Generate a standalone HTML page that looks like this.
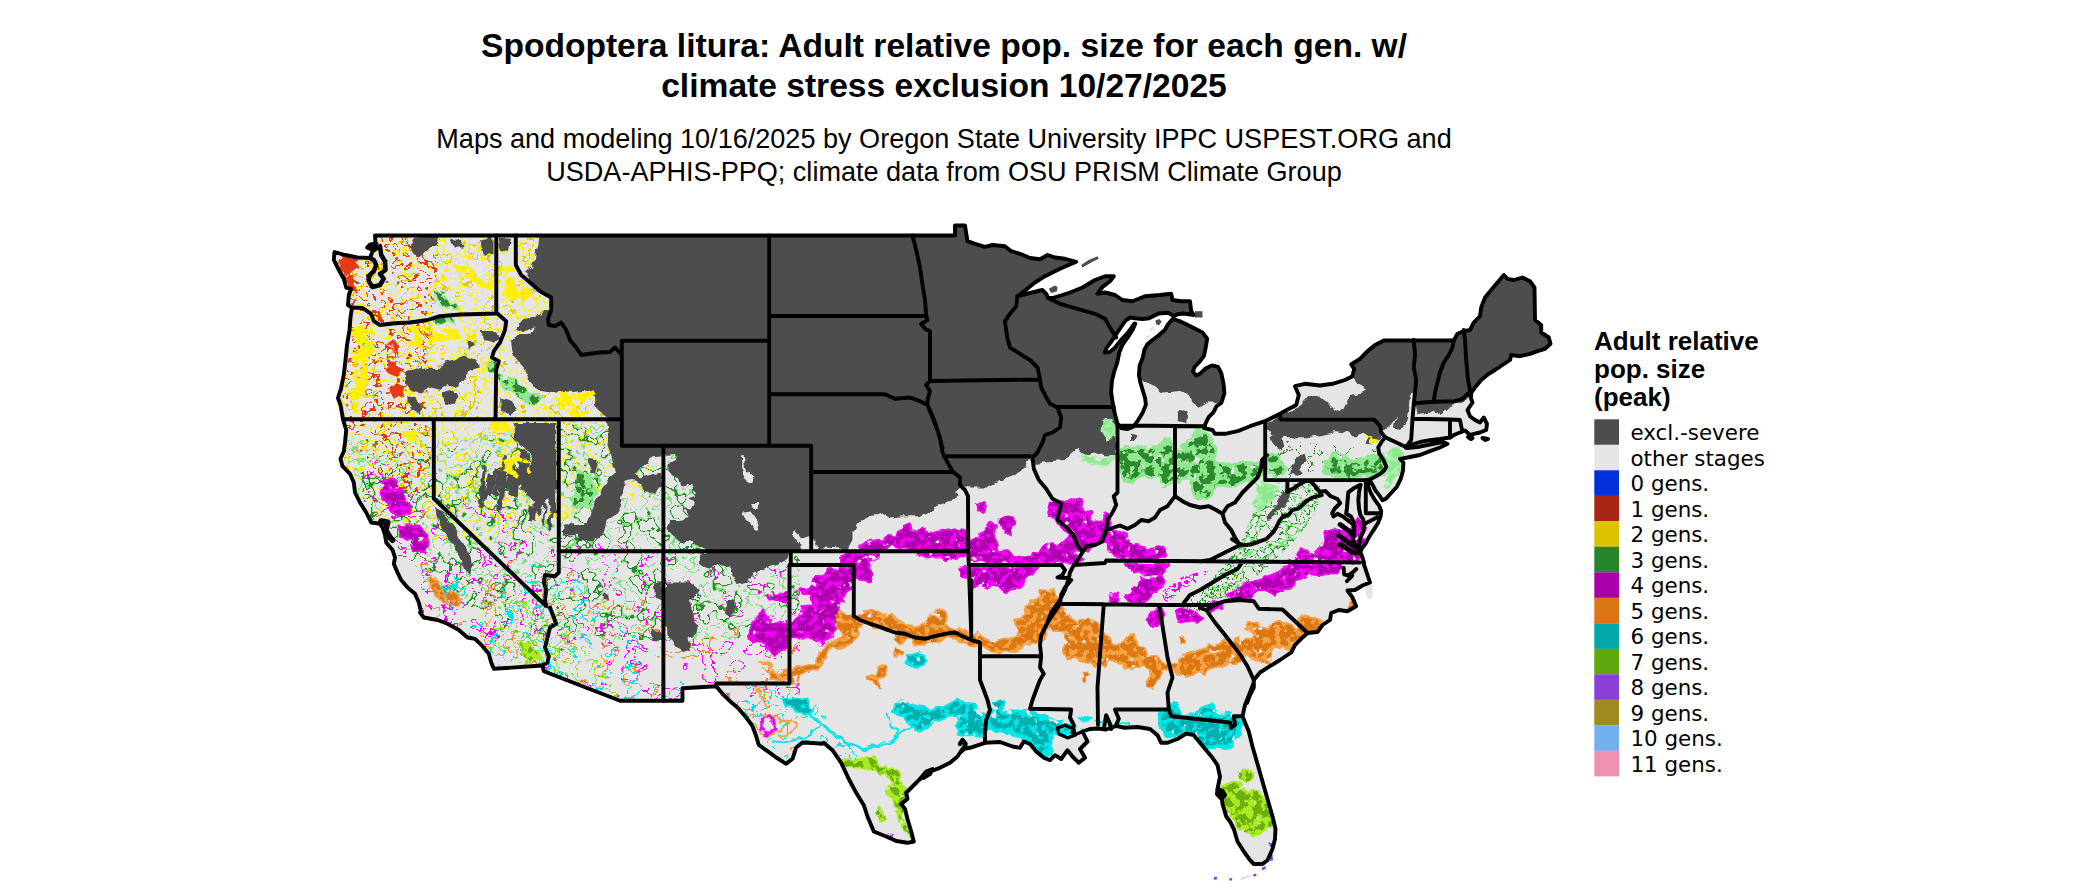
<!DOCTYPE html>
<html><head><meta charset="utf-8"><title>Spodoptera litura map</title>
<style>
html,body{margin:0;padding:0;background:#fff;}
body{width:2100px;height:892px;overflow:hidden;position:relative;}
svg{position:absolute;left:0;top:0;display:block;}
.t{font-family:"Liberation Sans",Arial,sans-serif;font-weight:bold;font-size:33.6px;fill:#000;text-anchor:middle;}
.s{font-family:"Liberation Sans",Arial,sans-serif;font-size:27.07px;fill:#000;text-anchor:middle;}
.lt{font-family:"Liberation Sans",Arial,sans-serif;font-weight:bold;font-size:26px;fill:#000;}
.le{font-family:"DejaVu Sans",Verdana,sans-serif;font-size:21.4px;fill:#000;}
.b{fill:none;stroke:#000;stroke-width:3.9;stroke-linejoin:round;stroke-linecap:round;}
</style></head><body>
<svg width="2100" height="892" viewBox="0 0 2100 892">
<rect width="2100" height="892" fill="#fff"/>
<text class="t" x="944" y="57.2">Spodoptera litura: Adult relative pop. size for each gen. w/</text>
<text class="t" x="944" y="97.2">climate stress exclusion 10/27/2025</text>
<text class="s" x="944" y="147.5">Maps and modeling 10/16/2025 by Oregon State University IPPC USPEST.ORG and</text>
<text class="s" x="944" y="181.3">USDA-APHIS-PPQ; climate data from OSU PRISM Climate Group</text>
<g id="map">
<path d="M375.0,235.5 L955.0,235.5 L955.0,225.5 L965.0,225.5 L967.5,241.2 L975.0,243.8 L985.0,246.8 L992.5,245.0 L1005.0,246.2 L1011.2,251.2 L1020.0,253.8 L1030.0,258.0 L1040.0,259.2 L1047.5,255.0 L1055.0,257.5 L1065.0,258.8 L1076.2,261.8 L1060.0,268.8 L1045.0,276.2 L1035.0,282.5 L1025.0,290.5 L1017.5,296.2 L1030.0,293.0 L1042.5,290.0 L1046.2,293.8 L1048.0,298.0 L1052.5,298.0 L1062.5,295.0 L1070.0,292.5 L1082.5,287.5 L1095.0,280.0 L1105.0,276.2 L1113.8,276.2 L1110.0,281.2 L1102.5,287.0 L1097.5,293.8 L1105.0,292.5 L1115.0,295.0 L1122.5,300.0 L1132.5,301.2 L1145.0,296.2 L1160.0,295.0 L1171.2,293.8 L1172.5,300.0 L1181.2,301.2 L1190.0,301.2 L1191.2,311.2 L1193.8,315.0 L1183.6,313.5 L1177.3,314.3 L1174.2,315.9 L1167.9,312.8 L1158.5,313.5 L1149.1,318.3 L1142.8,319.0 L1134.9,318.3 L1130.2,317.5 L1125.5,320.6 L1120.0,328.5 L1114.9,336.3 L1110.6,342.6 L1106.4,348.1 L1104.8,352.5 L1109.8,351.9 L1114.9,347.8 L1121.1,339.9 L1127.1,333.6 L1131.8,327.4 L1134.5,323.4 L1135.3,323.8 L1132.6,330.0 L1127.9,337.1 L1122.4,344.9 L1119.2,352.8 L1117.4,362.2 L1114.2,371.6 L1111.9,381.1 L1111.1,392.0 L1112.7,403.0 L1114.9,414.0 L1117.4,423.4 L1121.1,428.1 L1127.1,429.1 L1133.4,426.6 L1138.1,420.3 L1142.8,412.4 L1145.9,404.6 L1145.1,398.3 L1142.8,390.5 L1140.4,382.6 L1138.9,374.8 L1139.7,365.4 L1142.8,357.5 L1144.4,349.7 L1147.5,344.2 L1152.2,340.2 L1158.5,335.5 L1164.8,330.0 L1167.9,324.5 L1172.6,319.0 L1180.5,321.4 L1188.3,325.3 L1196.2,329.2 L1202.4,332.4 L1207.2,338.7 L1205.6,348.1 L1204.0,355.9 L1199.3,362.2 L1194.6,366.9 L1193.0,371.6 L1196.2,375.6 L1200.9,373.2 L1205.6,368.5 L1211.9,365.4 L1218.1,366.9 L1221.3,373.2 L1223.6,384.2 L1224.4,393.6 L1221.3,403.0 L1216.6,406.2 L1213.4,412.4 L1208.7,417.2 L1205.6,423.4 L1204.0,428.1 L1212.5,430.0 L1215.0,433.8 L1225.0,433.8 L1237.5,431.2 L1250.0,426.2 L1265.0,421.2 L1280.0,413.8 L1283.0,412.0 L1296.2,405.0 L1298.8,395.0 L1295.0,386.2 L1305.0,383.8 L1320.0,385.5 L1332.5,383.8 L1345.0,380.0 L1352.5,376.2 L1354.2,368.8 L1351.2,364.5 L1360.0,358.8 L1367.5,351.2 L1375.0,345.0 L1383.8,340.5 L1415.0,340.5 L1453.8,340.5 L1457.5,333.8 L1463.8,331.2 L1470.0,330.0 L1473.8,322.5 L1480.0,316.2 L1481.2,307.5 L1485.0,297.5 L1491.2,290.0 L1497.5,282.5 L1503.8,275.0 L1507.5,278.8 L1513.8,280.0 L1522.5,277.5 L1530.0,281.2 L1534.5,287.5 L1535.0,320.0 L1541.2,325.0 L1541.2,332.5 L1548.8,337.5 L1550.5,343.8 L1545.0,348.8 L1537.5,351.2 L1530.0,353.8 L1520.0,356.2 L1511.2,355.0 L1510.0,360.0 L1502.5,365.0 L1495.0,370.0 L1488.8,373.8 L1481.2,380.0 L1475.0,387.5 L1470.0,395.0 L1470.0,395.5 L1472.5,402.5 L1467.5,410.0 L1470.0,416.2 L1475.0,420.0 L1480.0,422.5 L1483.8,417.5 L1487.0,423.8 L1486.2,430.0 L1480.0,432.5 L1473.8,433.8 L1470.0,435.0 L1465.0,430.5 L1460.0,432.5 L1455.0,434.5 L1450.0,437.5 L1440.0,439.0 L1430.0,440.2 L1420.0,442.0 L1410.0,445.0 L1406.2,448.0 L1417.5,447.0 L1430.0,444.5 L1442.5,442.0 L1447.5,443.8 L1440.0,447.5 L1430.0,451.2 L1420.0,455.0 L1407.5,457.5 L1400.0,458.8 L1400.0,458.7 L1403.4,462.5 L1403.0,470.6 L1400.8,478.7 L1396.9,486.7 L1390.9,493.2 L1385.7,498.9 L1382.4,500.3 L1379.2,495.2 L1375.6,490.8 L1372.5,484.7 L1369.7,479.9 L1367.1,480.2 L1368.5,486.9 L1371.1,493.6 L1375.2,500.4 L1379.2,505.8 L1381.2,511.1 L1380.6,516.5 L1377.9,523.3 L1374.5,528.6 L1371.8,532.7 L1368.5,538.1 L1365.8,543.4 L1361.7,548.8 L1360.4,552.2 L1362.4,556.9 L1364.1,563.0 L1364.0,565.0 L1365.0,567.5 L1367.5,575.0 L1370.0,582.5 L1362.5,585.5 L1355.0,590.0 L1347.5,590.5 L1352.5,597.5 L1356.2,606.2 L1347.5,611.2 L1338.8,610.0 L1331.2,613.0 L1330.0,620.0 L1322.5,625.0 L1317.5,632.0 L1307.5,633.0 L1301.2,638.8 L1295.0,645.0 L1291.2,652.5 L1280.0,660.0 L1270.0,666.2 L1260.0,672.5 L1253.8,680.0 L1253.8,687.5 L1250.0,695.0 L1247.0,703.0 L1253.8,682.5 L1250.0,692.5 L1245.0,705.0 L1242.5,716.2 L1248.8,731.5 L1252.5,746.5 L1257.5,764.0 L1262.5,781.5 L1267.5,799.0 L1272.5,816.5 L1275.5,829.0 L1275.0,839.0 L1272.5,849.0 L1267.5,860.2 L1262.5,864.0 L1253.8,864.0 L1250.0,860.2 L1243.8,851.5 L1237.5,841.5 L1233.8,829.0 L1230.0,821.5 L1226.2,816.5 L1222.5,804.0 L1221.2,794.0 L1217.5,789.0 L1220.0,776.5 L1217.5,765.2 L1212.5,757.8 L1206.2,750.2 L1200.0,742.8 L1193.8,735.2 L1186.2,733.5 L1177.5,739.0 L1167.5,742.8 L1161.2,742.8 L1157.5,735.2 L1150.0,729.0 L1137.5,727.0 L1125.0,727.8 L1116.2,726.0 L1106.2,729.5 L1097.5,728.5 L1090.0,729.0 L1082.5,731.5 L1087.5,741.5 L1080.0,749.0 L1085.0,757.8 L1078.8,762.8 L1072.5,756.5 L1067.5,750.2 L1061.2,759.0 L1055.0,755.2 L1050.0,760.2 L1043.8,757.8 L1036.2,751.5 L1030.0,744.0 L1023.8,741.5 L1020.0,747.8 L1012.5,746.5 L1000.0,742.0 L985.0,742.8 L970.0,747.8 L962.5,749.0 L957.5,756.5 L950.0,762.8 L940.0,767.8 L930.0,771.5 L920.0,779.0 L912.5,786.5 L906.2,792.8 L907.5,799.0 L901.2,804.0 L905.0,809.0 L907.5,819.0 L911.2,831.5 L913.8,841.5 L907.5,842.8 L896.2,841.0 L886.2,836.5 L873.8,831.5 L867.5,816.5 L863.8,805.2 L856.2,792.8 L848.8,779.0 L841.2,762.8 L832.5,750.2 L823.8,742.8 L822.5,743.8 L812.5,743.0 L802.5,742.5 L796.2,747.5 L792.5,758.8 L786.2,763.8 L776.2,757.5 L767.5,751.2 L758.8,745.0 L756.2,736.2 L752.5,726.2 L746.2,717.5 L737.5,707.5 L730.0,701.2 L722.5,693.8 L716.2,686.2 L682.5,688.2 L682.5,700.8 L620.0,700.8 L543.8,671.2 L542.5,665.5 L493.8,668.8 L491.2,662.5 L488.8,653.8 L482.5,646.2 L475.0,638.8 L467.5,637.5 L458.8,630.0 L447.5,623.8 L437.5,620.0 L423.8,617.5 L420.0,612.5 L421.2,612.5 L418.8,602.5 L415.0,593.8 L407.5,587.5 L401.2,580.0 L397.5,572.5 L393.8,563.8 L395.0,557.5 L392.5,550.0 L386.2,542.5 L385.0,535.0 L382.5,527.5 L380.0,523.8 L371.2,522.5 L366.2,512.5 L360.0,502.5 L355.0,492.5 L353.8,482.5 L350.0,473.8 L342.5,466.2 L340.5,458.8 L343.8,451.2 L345.0,442.5 L346.2,430.0 L343.0,419.2 L340.5,405.0 L338.0,398.0 L341.2,387.5 L343.8,375.0 L345.5,360.0 L347.0,345.0 L349.5,330.0 L350.5,317.5 L352.0,307.5 L348.0,305.0 L348.8,295.0 L351.2,288.8 L346.2,287.5 L343.8,278.8 L338.8,270.0 L333.8,260.0 L334.5,252.0 L345.0,255.0 L357.5,257.5 L370.0,258.0 L375.5,243.8Z" fill="#e5e5e5" stroke="none"/>
<path fill="#4d4d4d" d="M1081.2,265.0 L1088.8,260.0 L1097.5,256.2 L1098.8,258.8 L1091.2,262.5 L1082.5,267.5Z"/>
<path fill="#4d4d4d" d="M1048.8,288.8 L1055.0,285.5 L1057.5,287.0 L1057.0,291.2 L1051.2,293.0Z"/>
<path fill="#4d4d4d" d="M1195.0,311.2 L1202.5,311.2 L1202.5,317.5 L1195.0,317.5Z"/>
<path fill="#4d4d4d" d="M1155.4,320.6 L1159.3,319.0 L1161.6,321.4 L1159.3,325.3 L1156.1,324.2Z"/>
<path fill="#e5e5e5" d="M1149.1,329.2 L1153.8,326.1 L1155.4,327.7 L1150.6,331.1Z"/>
<path fill="#e5e5e5" d="M1145.1,337.1 L1149.1,334.7 L1150.6,336.3 L1146.7,340.2Z"/>
<path fill="#e5e5e5" d="M1368.0,578.8 L1372.5,585.0 L1372.5,597.5 L1368.0,600.0 L1365.0,590.0Z"/>
<path fill="#e5e5e5" d="M1081.2,744.0 L1090.0,735.2 L1091.2,741.5 L1083.8,750.2Z"/>
<path fill="#e5e5e5" d="M1240.0,877.8 L1250.0,874.5 L1251.2,877.0 L1241.2,880.2Z"/>
<path fill="#8a3fd9" d="M1213.8,877.0 L1216.8,876.5 L1217.0,879.5 L1214.0,879.8Z"/>
<path fill="#8a3fd9" d="M1229.0,878.5 L1232.0,878.0 L1232.2,880.5 L1229.5,880.5Z"/>
<path fill="#8a3fd9" d="M1253.0,874.5 L1256.0,873.5 L1256.5,876.0 L1253.5,876.5Z"/>
<path fill="#8a3fd9" d="M1261.5,868.0 L1265.0,866.0 L1266.0,868.5 L1262.5,870.5Z"/>
<path fill="#8a3fd9" d="M1269.5,855.2 L1272.5,854.5 L1273.0,860.2 L1270.0,861.0Z"/>
<clipPath id="land"><path d="M375.0,235.5 L955.0,235.5 L955.0,225.5 L965.0,225.5 L967.5,241.2 L975.0,243.8 L985.0,246.8 L992.5,245.0 L1005.0,246.2 L1011.2,251.2 L1020.0,253.8 L1030.0,258.0 L1040.0,259.2 L1047.5,255.0 L1055.0,257.5 L1065.0,258.8 L1076.2,261.8 L1060.0,268.8 L1045.0,276.2 L1035.0,282.5 L1025.0,290.5 L1017.5,296.2 L1030.0,293.0 L1042.5,290.0 L1046.2,293.8 L1048.0,298.0 L1052.5,298.0 L1062.5,295.0 L1070.0,292.5 L1082.5,287.5 L1095.0,280.0 L1105.0,276.2 L1113.8,276.2 L1110.0,281.2 L1102.5,287.0 L1097.5,293.8 L1105.0,292.5 L1115.0,295.0 L1122.5,300.0 L1132.5,301.2 L1145.0,296.2 L1160.0,295.0 L1171.2,293.8 L1172.5,300.0 L1181.2,301.2 L1190.0,301.2 L1191.2,311.2 L1193.8,315.0 L1183.6,313.5 L1177.3,314.3 L1174.2,315.9 L1167.9,312.8 L1158.5,313.5 L1149.1,318.3 L1142.8,319.0 L1134.9,318.3 L1130.2,317.5 L1125.5,320.6 L1120.0,328.5 L1114.9,336.3 L1110.6,342.6 L1106.4,348.1 L1104.8,352.5 L1109.8,351.9 L1114.9,347.8 L1121.1,339.9 L1127.1,333.6 L1131.8,327.4 L1134.5,323.4 L1135.3,323.8 L1132.6,330.0 L1127.9,337.1 L1122.4,344.9 L1119.2,352.8 L1117.4,362.2 L1114.2,371.6 L1111.9,381.1 L1111.1,392.0 L1112.7,403.0 L1114.9,414.0 L1117.4,423.4 L1121.1,428.1 L1127.1,429.1 L1133.4,426.6 L1138.1,420.3 L1142.8,412.4 L1145.9,404.6 L1145.1,398.3 L1142.8,390.5 L1140.4,382.6 L1138.9,374.8 L1139.7,365.4 L1142.8,357.5 L1144.4,349.7 L1147.5,344.2 L1152.2,340.2 L1158.5,335.5 L1164.8,330.0 L1167.9,324.5 L1172.6,319.0 L1180.5,321.4 L1188.3,325.3 L1196.2,329.2 L1202.4,332.4 L1207.2,338.7 L1205.6,348.1 L1204.0,355.9 L1199.3,362.2 L1194.6,366.9 L1193.0,371.6 L1196.2,375.6 L1200.9,373.2 L1205.6,368.5 L1211.9,365.4 L1218.1,366.9 L1221.3,373.2 L1223.6,384.2 L1224.4,393.6 L1221.3,403.0 L1216.6,406.2 L1213.4,412.4 L1208.7,417.2 L1205.6,423.4 L1204.0,428.1 L1212.5,430.0 L1215.0,433.8 L1225.0,433.8 L1237.5,431.2 L1250.0,426.2 L1265.0,421.2 L1280.0,413.8 L1283.0,412.0 L1296.2,405.0 L1298.8,395.0 L1295.0,386.2 L1305.0,383.8 L1320.0,385.5 L1332.5,383.8 L1345.0,380.0 L1352.5,376.2 L1354.2,368.8 L1351.2,364.5 L1360.0,358.8 L1367.5,351.2 L1375.0,345.0 L1383.8,340.5 L1415.0,340.5 L1453.8,340.5 L1457.5,333.8 L1463.8,331.2 L1470.0,330.0 L1473.8,322.5 L1480.0,316.2 L1481.2,307.5 L1485.0,297.5 L1491.2,290.0 L1497.5,282.5 L1503.8,275.0 L1507.5,278.8 L1513.8,280.0 L1522.5,277.5 L1530.0,281.2 L1534.5,287.5 L1535.0,320.0 L1541.2,325.0 L1541.2,332.5 L1548.8,337.5 L1550.5,343.8 L1545.0,348.8 L1537.5,351.2 L1530.0,353.8 L1520.0,356.2 L1511.2,355.0 L1510.0,360.0 L1502.5,365.0 L1495.0,370.0 L1488.8,373.8 L1481.2,380.0 L1475.0,387.5 L1470.0,395.0 L1470.0,395.5 L1472.5,402.5 L1467.5,410.0 L1470.0,416.2 L1475.0,420.0 L1480.0,422.5 L1483.8,417.5 L1487.0,423.8 L1486.2,430.0 L1480.0,432.5 L1473.8,433.8 L1470.0,435.0 L1465.0,430.5 L1460.0,432.5 L1455.0,434.5 L1450.0,437.5 L1440.0,439.0 L1430.0,440.2 L1420.0,442.0 L1410.0,445.0 L1406.2,448.0 L1417.5,447.0 L1430.0,444.5 L1442.5,442.0 L1447.5,443.8 L1440.0,447.5 L1430.0,451.2 L1420.0,455.0 L1407.5,457.5 L1400.0,458.8 L1400.0,458.7 L1403.4,462.5 L1403.0,470.6 L1400.8,478.7 L1396.9,486.7 L1390.9,493.2 L1385.7,498.9 L1382.4,500.3 L1379.2,495.2 L1375.6,490.8 L1372.5,484.7 L1369.7,479.9 L1367.1,480.2 L1368.5,486.9 L1371.1,493.6 L1375.2,500.4 L1379.2,505.8 L1381.2,511.1 L1380.6,516.5 L1377.9,523.3 L1374.5,528.6 L1371.8,532.7 L1368.5,538.1 L1365.8,543.4 L1361.7,548.8 L1360.4,552.2 L1362.4,556.9 L1364.1,563.0 L1364.0,565.0 L1365.0,567.5 L1367.5,575.0 L1370.0,582.5 L1362.5,585.5 L1355.0,590.0 L1347.5,590.5 L1352.5,597.5 L1356.2,606.2 L1347.5,611.2 L1338.8,610.0 L1331.2,613.0 L1330.0,620.0 L1322.5,625.0 L1317.5,632.0 L1307.5,633.0 L1301.2,638.8 L1295.0,645.0 L1291.2,652.5 L1280.0,660.0 L1270.0,666.2 L1260.0,672.5 L1253.8,680.0 L1253.8,687.5 L1250.0,695.0 L1247.0,703.0 L1253.8,682.5 L1250.0,692.5 L1245.0,705.0 L1242.5,716.2 L1248.8,731.5 L1252.5,746.5 L1257.5,764.0 L1262.5,781.5 L1267.5,799.0 L1272.5,816.5 L1275.5,829.0 L1275.0,839.0 L1272.5,849.0 L1267.5,860.2 L1262.5,864.0 L1253.8,864.0 L1250.0,860.2 L1243.8,851.5 L1237.5,841.5 L1233.8,829.0 L1230.0,821.5 L1226.2,816.5 L1222.5,804.0 L1221.2,794.0 L1217.5,789.0 L1220.0,776.5 L1217.5,765.2 L1212.5,757.8 L1206.2,750.2 L1200.0,742.8 L1193.8,735.2 L1186.2,733.5 L1177.5,739.0 L1167.5,742.8 L1161.2,742.8 L1157.5,735.2 L1150.0,729.0 L1137.5,727.0 L1125.0,727.8 L1116.2,726.0 L1106.2,729.5 L1097.5,728.5 L1090.0,729.0 L1082.5,731.5 L1087.5,741.5 L1080.0,749.0 L1085.0,757.8 L1078.8,762.8 L1072.5,756.5 L1067.5,750.2 L1061.2,759.0 L1055.0,755.2 L1050.0,760.2 L1043.8,757.8 L1036.2,751.5 L1030.0,744.0 L1023.8,741.5 L1020.0,747.8 L1012.5,746.5 L1000.0,742.0 L985.0,742.8 L970.0,747.8 L962.5,749.0 L957.5,756.5 L950.0,762.8 L940.0,767.8 L930.0,771.5 L920.0,779.0 L912.5,786.5 L906.2,792.8 L907.5,799.0 L901.2,804.0 L905.0,809.0 L907.5,819.0 L911.2,831.5 L913.8,841.5 L907.5,842.8 L896.2,841.0 L886.2,836.5 L873.8,831.5 L867.5,816.5 L863.8,805.2 L856.2,792.8 L848.8,779.0 L841.2,762.8 L832.5,750.2 L823.8,742.8 L822.5,743.8 L812.5,743.0 L802.5,742.5 L796.2,747.5 L792.5,758.8 L786.2,763.8 L776.2,757.5 L767.5,751.2 L758.8,745.0 L756.2,736.2 L752.5,726.2 L746.2,717.5 L737.5,707.5 L730.0,701.2 L722.5,693.8 L716.2,686.2 L682.5,688.2 L682.5,700.8 L620.0,700.8 L543.8,671.2 L542.5,665.5 L493.8,668.8 L491.2,662.5 L488.8,653.8 L482.5,646.2 L475.0,638.8 L467.5,637.5 L458.8,630.0 L447.5,623.8 L437.5,620.0 L423.8,617.5 L420.0,612.5 L421.2,612.5 L418.8,602.5 L415.0,593.8 L407.5,587.5 L401.2,580.0 L397.5,572.5 L393.8,563.8 L395.0,557.5 L392.5,550.0 L386.2,542.5 L385.0,535.0 L382.5,527.5 L380.0,523.8 L371.2,522.5 L366.2,512.5 L360.0,502.5 L355.0,492.5 L353.8,482.5 L350.0,473.8 L342.5,466.2 L340.5,458.8 L343.8,451.2 L345.0,442.5 L346.2,430.0 L343.0,419.2 L340.5,405.0 L338.0,398.0 L341.2,387.5 L343.8,375.0 L345.5,360.0 L347.0,345.0 L349.5,330.0 L350.5,317.5 L352.0,307.5 L348.0,305.0 L348.8,295.0 L351.2,288.8 L346.2,287.5 L343.8,278.8 L338.8,270.0 L333.8,260.0 L334.5,252.0 L345.0,255.0 L357.5,257.5 L370.0,258.0 L375.5,243.8Z"/></clipPath>
<filter id="rd" x="-2%" y="-2%" width="104%" height="104%"><feTurbulence type="fractalNoise" baseFrequency="0.12" numOctaves="2" seed="3" result="n"/><feDisplacementMap in="SourceGraphic" in2="n" scale="6" xChannelSelector="R" yChannelSelector="G"/></filter>
<g clip-path="url(#land)">
<filter id="c0" x="0" y="0" width="100%" height="100%" color-interpolation-filters="sRGB"><feTurbulence type="fractalNoise" baseFrequency="0.045" numOctaves="3" seed="1"/><feColorMatrix type="matrix" values="0 0 0 0 0 0 0 0 0 0 0 0 0 0 0 1 0 0 0 0"/><feComponentTransfer><feFuncA type="discrete" tableValues="0 0 0 0 0 0 0 0 0 0 0 0 0 0 0 1 0 0 0 0 0 1 0 0 0 0 0 0 0 0 0 0 0 0 0 0 0 0 0 0"/></feComponentTransfer><feComposite in2="SourceGraphic" operator="in" result="a"/><feFlood flood-color="#fff000"/><feComposite in2="a" operator="in"/></filter>
<path d="M345.0,236.0 L620.0,236.0 L622.0,420.0 L660.0,450.0 L640.0,500.0 L560.0,520.0 L500.0,540.0 L430.0,540.0 L380.0,520.0 L345.0,480.0 L335.0,330.0Z" fill="#000" filter="url(#c0)"/>
<filter id="c1" x="0" y="0" width="100%" height="100%" color-interpolation-filters="sRGB"><feTurbulence type="fractalNoise" baseFrequency="0.05" numOctaves="3" seed="2"/><feColorMatrix type="matrix" values="0 0 0 0 0 0 0 0 0 0 0 0 0 0 0 1 0 0 0 0"/><feComponentTransfer><feFuncA type="discrete" tableValues="0 0 0 0 0 0 0 0 0 0 0 0 0 0 0 0 0 0 0 0 0 0 0 0 1 0 0 0 0 0 0 0 0 0 0 0 0 0 0 0"/></feComponentTransfer><feComposite in2="SourceGraphic" operator="in" result="a"/><feFlood flood-color="#e0c800"/><feComposite in2="a" operator="in"/></filter>
<path d="M345.0,236.0 L620.0,236.0 L622.0,420.0 L560.0,500.0 L430.0,520.0 L345.0,470.0 L335.0,330.0Z" fill="#000" filter="url(#c1)"/>
<filter id="c2" x="0" y="0" width="100%" height="100%" color-interpolation-filters="sRGB"><feTurbulence type="fractalNoise" baseFrequency="0.07" numOctaves="3" seed="3"/><feColorMatrix type="matrix" values="0 0 0 0 0 0 0 0 0 0 0 0 0 0 0 1 0 0 0 0"/><feComponentTransfer><feFuncA type="discrete" tableValues="0 0 0 0 0 0 0 0 0 0 0 0 0 1 1 0 0 0 0 0 0 0 0 0 0 0 1 0 0 0 0 0 0 0 0 0 0 0 0 0"/></feComponentTransfer><feComposite in2="SourceGraphic" operator="in" result="a"/><feFlood flood-color="#e03a12"/><feComposite in2="a" operator="in"/></filter>
<path d="M335.0,236.0 L440.0,236.0 L425.0,420.0 L445.0,500.0 L400.0,500.0 L335.0,420.0Z" fill="#000" filter="url(#c2)"/>
<filter id="c3" x="0" y="0" width="100%" height="100%" color-interpolation-filters="sRGB"><feTurbulence type="fractalNoise" baseFrequency="0.045" numOctaves="3" seed="4"/><feColorMatrix type="matrix" values="0 0 0 0 0 0 0 0 0 0 0 0 0 0 0 1 0 0 0 0"/><feComponentTransfer><feFuncA type="discrete" tableValues="0 0 0 0 0 0 0 0 0 0 0 0 0 0 0 0 1 0 0 0 0 0 0 0 0 0 0 0 0 0 0 0 0 0 0 0 0 0 0 0"/></feComponentTransfer><feComposite in2="SourceGraphic" operator="in" result="a"/><feFlood flood-color="#2c8a2c"/><feComposite in2="a" operator="in"/></filter>
<path d="M440.0,450.0 L560.0,425.0 L620.0,420.0 L700.0,450.0 L800.0,560.0 L800.0,640.0 L560.0,640.0 L450.0,600.0 L370.0,520.0 L360.0,470.0Z" fill="#000" filter="url(#c3)"/>
<filter id="c4" x="0" y="0" width="100%" height="100%" color-interpolation-filters="sRGB"><feTurbulence type="fractalNoise" baseFrequency="0.045" numOctaves="3" seed="4"/><feColorMatrix type="matrix" values="0 0 0 0 0 0 0 0 0 0 0 0 0 0 0 1 0 0 0 0"/><feComponentTransfer><feFuncA type="discrete" tableValues="0 0 0 0 0 0 0 0 0 0 0 0 0 0 0 0 0 1 0 0 0 0 0 1 0 0 0 0 0 0 0 0 0 0 0 0 0 0 0 0"/></feComponentTransfer><feComposite in2="SourceGraphic" operator="in" result="a"/><feFlood flood-color="#7fe07f"/><feComposite in2="a" operator="in"/></filter>
<path d="M345.0,440.0 L440.0,440.0 L560.0,425.0 L620.0,420.0 L700.0,450.0 L800.0,560.0 L800.0,640.0 L560.0,640.0 L450.0,600.0 L345.0,480.0Z" fill="#000" filter="url(#c4)"/>
<filter id="c5" x="0" y="0" width="100%" height="100%" color-interpolation-filters="sRGB"><feTurbulence type="fractalNoise" baseFrequency="0.05" numOctaves="3" seed="5"/><feColorMatrix type="matrix" values="0 0 0 0 0 0 0 0 0 0 0 0 0 0 0 1 0 0 0 0"/><feComponentTransfer><feFuncA type="discrete" tableValues="0 0 0 0 0 0 0 0 0 0 0 0 0 0 0 1 0 0 0 0 0 0 0 0 0 0 0 0 0 0 0 0 0 0 0 0 0 0 0 0"/></feComponentTransfer><feComposite in2="SourceGraphic" operator="in" result="a"/><feFlood flood-color="#f400f4"/><feComposite in2="a" operator="in"/></filter>
<path d="M350.0,450.0 L430.0,480.0 L560.0,540.0 L800.0,560.0 L800.0,700.0 L620.0,700.0 L440.0,640.0 L380.0,560.0Z" fill="#000" filter="url(#c5)"/>
<filter id="c6" x="0" y="0" width="100%" height="100%" color-interpolation-filters="sRGB"><feTurbulence type="fractalNoise" baseFrequency="0.05" numOctaves="3" seed="6"/><feColorMatrix type="matrix" values="0 0 0 0 0 0 0 0 0 0 0 0 0 0 0 1 0 0 0 0"/><feComponentTransfer><feFuncA type="discrete" tableValues="0 0 0 0 0 0 0 0 0 0 0 0 0 0 0 0 0 0 0 0 0 0 0 0 0 1 0 0 0 0 0 0 0 0 0 0 0 0 0 0"/></feComponentTransfer><feComposite in2="SourceGraphic" operator="in" result="a"/><feFlood flood-color="#f08a28"/><feComposite in2="a" operator="in"/></filter>
<path d="M400.0,560.0 L560.0,560.0 L700.0,620.0 L800.0,640.0 L800.0,760.0 L720.0,690.0 L620.0,700.0 L450.0,650.0Z" fill="#000" filter="url(#c6)"/>
<filter id="c7" x="0" y="0" width="100%" height="100%" color-interpolation-filters="sRGB"><feTurbulence type="fractalNoise" baseFrequency="0.05" numOctaves="3" seed="7"/><feColorMatrix type="matrix" values="0 0 0 0 0 0 0 0 0 0 0 0 0 0 0 1 0 0 0 0"/><feComponentTransfer><feFuncA type="discrete" tableValues="0 0 0 0 0 0 0 0 0 0 0 0 0 0 0 0 0 0 0 0 0 0 0 0 1 0 0 0 0 0 0 0 0 0 0 0 0 0 0 0"/></feComponentTransfer><feComposite in2="SourceGraphic" operator="in" result="a"/><feFlood flood-color="#00e0e0"/><feComposite in2="a" operator="in"/></filter>
<path d="M430.0,580.0 L560.0,560.0 L640.0,640.0 L700.0,700.0 L620.0,700.0 L480.0,650.0Z" fill="#000" filter="url(#c7)"/>
<filter id="c8" x="0" y="0" width="100%" height="100%" color-interpolation-filters="sRGB"><feTurbulence type="fractalNoise" baseFrequency="0.05" numOctaves="3" seed="8"/><feColorMatrix type="matrix" values="0 0 0 0 0 0 0 0 0 0 0 0 0 0 0 1 0 0 0 0"/><feComponentTransfer><feFuncA type="discrete" tableValues="0 0 0 0 0 0 0 0 0 0 0 0 0 0 0 0 1 0 0 0 0 0 0 0 0 0 0 0 0 0 0 0 0 0 0 0 0 0 0 0"/></feComponentTransfer><feComposite in2="SourceGraphic" operator="in" result="a"/><feFlood flood-color="#00e0e0"/><feComposite in2="a" operator="in"/></filter>
<path d="M716.0,684.0 L800.0,684.0 L860.0,760.0 L800.0,770.0 L740.0,720.0Z" fill="#000" filter="url(#c8)"/>
<filter id="c9" x="0" y="0" width="100%" height="100%" color-interpolation-filters="sRGB"><feTurbulence type="fractalNoise" baseFrequency="0.05" numOctaves="3" seed="9"/><feColorMatrix type="matrix" values="0 0 0 0 0 0 0 0 0 0 0 0 0 0 0 1 0 0 0 0"/><feComponentTransfer><feFuncA type="discrete" tableValues="0 0 0 0 0 0 0 0 0 0 0 0 0 0 0 0 1 0 0 0 0 0 0 1 0 0 0 0 0 0 0 0 0 0 0 0 0 0 0 0"/></feComponentTransfer><feComposite in2="SourceGraphic" operator="in" result="a"/><feFlood flood-color="#8fe020"/><feComposite in2="a" operator="in"/></filter>
<path d="M480.0,600.0 L560.0,600.0 L600.0,660.0 L620.0,700.0 L540.0,665.0 L490.0,660.0Z" fill="#000" filter="url(#c9)"/>
<filter id="c10" x="0" y="0" width="100%" height="100%" color-interpolation-filters="sRGB"><feTurbulence type="fractalNoise" baseFrequency="0.06" numOctaves="3" seed="12"/><feColorMatrix type="matrix" values="0 0 0 0 0 0 0 0 0 0 0 0 0 0 0 1 0 0 0 0"/><feComponentTransfer><feFuncA type="discrete" tableValues="0 0 0 0 0 0 0 0 0 0 0 0 0 0 0 0 1 1 1 0 0 0 1 1 0 0 0 0 0 0 0 0 0 0 0 0 0 0 0 0"/></feComponentTransfer><feComposite in2="SourceGraphic" operator="in" result="a"/><feFlood flood-color="#f400f4"/><feComposite in2="a" operator="in"/></filter>
<path d="M1163.6,590.3 L1173.6,583.6 L1182.0,576.9 L1193.7,573.6 L1207.1,570.2 L1210.4,576.9 L1200.4,580.3 L1190.4,585.3 L1182.0,590.3 L1173.6,597.0 L1167.0,602.0 L1162.0,598.6Z" fill="#000" filter="url(#c10)"/>
<filter id="c11" x="0" y="0" width="100%" height="100%" color-interpolation-filters="sRGB"><feTurbulence type="fractalNoise" baseFrequency="0.08" numOctaves="3" seed="13"/><feColorMatrix type="matrix" values="0 0 0 0 0 0 0 0 0 0 0 0 0 0 0 1 0 0 0 0"/><feComponentTransfer><feFuncA type="discrete" tableValues="0 0 0 0 0 0 0 0 0 0 0 0 0 0 0 0 1 0 0 0 0 0 0 1 0 0 0 0 0 0 0 0 0 0 0 0 0 0 0 0"/></feComponentTransfer><feComposite in2="SourceGraphic" operator="in" result="a"/><feFlood flood-color="#2c8a2c"/><feComposite in2="a" operator="in"/></filter>
<path d="M1187.0,597.0 L1207.1,585.3 L1223.8,576.9 L1240.5,568.6 L1243.8,573.6 L1232.1,586.9 L1220.4,597.0 L1207.1,607.0 L1190.4,617.0 L1183.7,615.3Z" fill="#000" filter="url(#c11)"/>
<filter id="c12" x="0" y="0" width="100%" height="100%" color-interpolation-filters="sRGB"><feTurbulence type="fractalNoise" baseFrequency="0.08" numOctaves="3" seed="14"/><feColorMatrix type="matrix" values="0 0 0 0 0 0 0 0 0 0 0 0 0 0 0 1 0 0 0 0"/><feComponentTransfer><feFuncA type="discrete" tableValues="0 0 0 0 0 0 0 0 0 0 0 0 0 0 0 0 0 0 0 0 1 0 0 0 0 0 0 0 0 0 0 0 0 0 0 0 0 0 0 0"/></feComponentTransfer><feComposite in2="SourceGraphic" operator="in" result="a"/><feFlood flood-color="#e6cc00"/><feComposite in2="a" operator="in"/></filter>
<path d="M1203.7,590.3 L1223.8,576.9 L1240.5,568.6 L1243.8,573.6 L1232.1,586.9 L1215.4,597.0Z" fill="#000" filter="url(#c12)"/>
<filter id="c13" x="0" y="0" width="100%" height="100%" color-interpolation-filters="sRGB"><feTurbulence type="fractalNoise" baseFrequency="0.07" numOctaves="3" seed="15"/><feColorMatrix type="matrix" values="0 0 0 0 0 0 0 0 0 0 0 0 0 0 0 1 0 0 0 0"/><feComponentTransfer><feFuncA type="discrete" tableValues="0 0 0 0 0 0 0 0 0 0 0 0 0 0 0 0 1 0 0 0 0 0 0 1 0 0 0 0 0 0 0 0 0 0 0 0 0 0 0 0"/></feComponentTransfer><feComposite in2="SourceGraphic" operator="in" result="a"/><feFlood flood-color="#2c8a2c"/><feComposite in2="a" operator="in"/></filter>
<path d="M1262.0,492.0 L1300.0,482.0 L1320.0,486.0 L1318.0,510.0 L1295.0,540.0 L1270.0,565.0 L1240.0,590.0 L1215.0,610.0 L1200.0,600.0 L1215.0,575.0 L1240.0,545.0Z" fill="#000" filter="url(#c13)"/>
<filter id="c14" x="0" y="0" width="100%" height="100%" color-interpolation-filters="sRGB"><feTurbulence type="fractalNoise" baseFrequency="0.07" numOctaves="3" seed="15"/><feColorMatrix type="matrix" values="0 0 0 0 0 0 0 0 0 0 0 0 0 0 0 1 0 0 0 0"/><feComponentTransfer><feFuncA type="discrete" tableValues="0 0 0 0 0 0 0 0 0 0 0 0 0 0 0 0 0 1 1 0 0 0 1 0 0 0 0 0 0 0 0 0 0 0 0 0 0 0 0 0"/></feComponentTransfer><feComposite in2="SourceGraphic" operator="in" result="a"/><feFlood flood-color="#7fe07f"/><feComposite in2="a" operator="in"/></filter>
<path d="M1262.0,492.0 L1300.0,482.0 L1320.0,486.0 L1318.0,510.0 L1295.0,540.0 L1270.0,565.0 L1240.0,590.0 L1215.0,610.0 L1200.0,600.0 L1215.0,575.0 L1240.0,545.0Z" fill="#000" filter="url(#c14)"/>
<filter id="c15" x="0" y="0" width="100%" height="100%" color-interpolation-filters="sRGB"><feTurbulence type="fractalNoise" baseFrequency="0.07" numOctaves="3" seed="16"/><feColorMatrix type="matrix" values="0 0 0 0 0 0 0 0 0 0 0 0 0 0 0 1 0 0 0 0"/><feComponentTransfer><feFuncA type="discrete" tableValues="0 0 0 0 0 0 0 0 0 0 0 0 0 0 0 0 1 0 0 0 0 0 0 0 0 0 0 0 0 0 0 0 0 0 0 0 0 0 0 0"/></feComponentTransfer><feComposite in2="SourceGraphic" operator="in" result="a"/><feFlood flood-color="#2c8a2c"/><feComposite in2="a" operator="in"/></filter>
<path d="M1275.0,440.0 L1330.0,445.0 L1380.0,450.0 L1390.0,470.0 L1330.0,478.0 L1275.0,478.0Z" fill="#000" filter="url(#c15)"/>
<g filter="url(#rd)"><path fill="#4d4d4d" d="M538.0,200.0 L1300.0,200.0 L1300.0,330.0 L1232.0,380.0 L1224.0,404.0 L1217.5,405.0 L1210.0,401.2 L1200.0,407.5 L1192.5,402.5 L1190.0,395.0 L1177.5,391.2 L1162.5,392.5 L1152.5,385.0 L1141.2,380.0 L1132.5,380.0 L1115.0,427.5 L1105.0,417.5 L1105.0,430.0 L1115.0,432.5 L1116.2,456.2 L1105.0,456.2 L1095.0,452.5 L1085.0,455.0 L1077.5,448.8 L1070.0,455.0 L1065.0,460.0 L1047.5,461.2 L1037.5,463.8 L1028.8,458.8 L1025.0,467.5 L1015.0,475.0 L1002.5,480.0 L987.5,487.5 L970.0,487.5 L962.5,485.0 L955.0,491.2 L960.0,496.2 L952.5,500.0 L940.0,505.0 L930.0,511.2 L920.0,516.2 L902.5,516.2 L890.0,517.5 L882.5,512.5 L872.5,515.0 L857.5,522.5 L852.5,532.5 L852.5,540.0 L847.5,548.8 L822.5,547.5 L817.5,550.0 L815.0,540.0 L808.8,536.2 L801.2,538.8 L795.0,530.0 L792.5,535.0 L800.0,542.5 L801.2,550.5 L788.8,552.5 L787.5,557.5 L780.0,562.5 L770.0,566.2 L760.0,570.0 L752.5,572.5 L747.5,582.5 L737.5,585.0 L732.5,575.0 L730.0,566.2 L715.0,565.0 L710.0,570.0 L700.0,565.0 L700.0,555.0 L710.0,551.2 L700.0,546.2 L690.0,540.0 L682.5,545.0 L675.0,537.5 L667.5,530.0 L670.0,520.0 L680.0,520.0 L690.0,517.5 L682.5,507.5 L690.0,510.0 L695.0,502.5 L687.5,497.5 L695.0,495.0 L692.5,485.0 L680.0,485.0 L677.5,477.5 L667.5,472.5 L667.5,463.8 L676.2,460.0 L675.0,455.0 L663.2,456.2 L650.0,457.5 L647.5,462.5 L635.0,472.5 L640.0,477.5 L650.0,475.0 L661.2,472.5 L661.2,485.0 L655.0,492.5 L645.0,492.5 L640.0,483.8 L632.5,480.0 L625.0,481.2 L622.5,492.5 L620.0,505.0 L615.0,515.0 L607.5,520.0 L605.0,532.5 L592.5,541.2 L580.0,540.0 L577.5,533.8 L562.5,535.0 L563.8,530.0 L572.5,525.0 L583.8,525.0 L590.0,517.5 L593.8,505.0 L600.0,492.5 L607.5,482.5 L615.0,472.5 L612.5,460.0 L607.5,445.0 L608.8,430.0 L606.2,419.2 L607.5,418.8 L602.5,415.0 L597.5,407.5 L593.8,397.5 L590.0,390.5 L572.5,392.0 L562.5,391.2 L555.0,393.0 L542.5,391.2 L533.8,387.5 L530.0,380.0 L525.0,370.0 L517.5,361.2 L512.5,352.5 L511.2,342.5 L517.5,335.0 L530.0,335.0 L533.8,326.2 L522.5,331.2 L515.0,328.8 L520.0,322.5 L530.0,317.5 L542.5,315.0 L545.0,310.0 L551.2,310.0 L551.2,297.5 L540.0,291.2 L530.0,282.5 L525.0,272.5 L533.8,265.0 L536.2,250.0 L538.8,236.2Z M1267.0,423.0 L1282.0,414.0 L1295.0,409.0 L1302.5,403.8 L1310.0,395.0 L1317.5,395.0 L1327.5,402.5 L1335.0,410.0 L1341.0,412.5 L1343.8,405.0 L1350.0,395.0 L1362.5,392.5 L1366.0,388.8 L1355.0,382.5 L1355.0,370.0 L1335.0,355.0 L1340.0,330.0 L1380.0,300.0 L1500.0,250.0 L1580.0,250.0 L1580.0,350.0 L1480.0,390.0 L1470.0,395.5 L1466.0,400.0 L1460.0,402.5 L1452.5,405.0 L1447.5,410.0 L1440.0,415.0 L1432.5,410.0 L1425.0,415.0 L1417.5,416.0 L1416.0,405.0 L1413.0,395.0 L1411.0,395.0 L1410.0,405.0 L1407.5,415.0 L1405.0,425.0 L1400.0,430.0 L1394.0,427.5 L1395.0,420.0 L1399.0,415.0 L1401.0,405.0 L1404.0,395.0 L1406.0,392.0 L1404.4,408.0 L1401.4,414.0 L1395.3,418.2 L1391.3,424.2 L1381.2,432.3 L1382.2,436.3 L1379.2,439.3 L1371.1,444.4 L1365.0,443.4 L1369.1,436.3 L1361.0,432.3 L1359.0,437.3 L1352.0,437.3 L1348.9,430.3 L1342.9,433.3 L1334.8,432.3 L1320.7,435.3 L1306.6,437.3 L1288.4,437.3 L1282.4,438.3 L1284.4,447.4 L1280.3,450.4 L1273.3,443.4 L1272.3,436.3 L1268.2,430.3Z M405.0,372.5 L415.0,370.0 L425.0,367.5 L437.5,370.0 L445.0,362.5 L455.0,360.0 L465.0,356.2 L475.0,360.0 L480.0,367.5 L470.0,370.0 L462.5,380.0 L456.2,387.5 L447.5,385.0 L440.0,390.0 L430.0,387.5 L420.0,392.5 L410.0,390.0 L405.0,382.5Z M442.5,392.5 L450.0,390.0 L457.5,395.0 L455.0,405.0 L445.0,402.5Z M407.5,395.0 L415.0,397.5 L422.5,407.5 L420.0,413.8 L412.5,410.0 L407.5,402.5Z M480.0,330.0 L492.5,330.0 L500.0,337.5 L495.0,342.5 L485.0,340.0Z M467.5,340.0 L475.0,345.0 L470.0,350.0Z M415.0,237.5 L437.5,237.5 L435.0,245.0 L427.5,250.0 L420.0,257.5 L412.5,252.5 L410.0,245.0Z M450.0,238.8 L460.0,240.0 L465.0,247.5 L455.0,247.5Z M480.0,240.0 L492.5,238.8 L492.5,252.5 L485.0,255.0 L480.0,247.5Z M498.8,237.5 L510.0,238.8 L507.5,252.5 L500.0,250.0Z M500.0,397.5 L510.0,400.0 L517.5,410.0 L510.0,415.0 L501.2,410.0Z M514.2,422.9 L556.2,422.9 L556.2,512.9 L551.9,511.2 L548.5,499.2 L541.6,506.1 L536.5,512.9 L534.8,502.6 L527.9,495.8 L524.5,483.8 L527.9,470.0 L534.8,461.5 L531.3,452.9 L526.2,449.5 L521.1,444.3 L515.9,440.9 L512.5,434.0 L515.9,427.2Z M483.1,466.4 L486.9,467.8 L482.8,508.5 L479.0,506.4Z M489.0,474.2 L492.9,475.5 L486.7,500.1 L482.8,498.0Z M493.8,467.3 L497.7,468.7 L491.4,496.4 L487.4,494.4Z M497.9,468.1 L502.9,469.5 L497.4,495.6 L492.4,493.5Z M501.8,467.5 L506.8,468.8 L501.2,512.9 L496.2,510.9Z M503.9,454.6 L507.0,456.0 L503.0,490.6 L500.0,488.6Z M510.9,461.1 L516.1,462.5 L508.9,489.6 L503.7,487.5Z M513.2,466.3 L518.7,467.6 L513.7,496.4 L508.2,494.4Z M519.9,462.7 L524.8,464.0 L517.1,498.2 L512.1,496.1Z M521.1,448.8 L526.5,450.1 L522.1,486.2 L516.6,484.1Z M524.7,451.7 L529.8,453.1 L526.2,492.3 L521.1,490.3Z M530.7,460.3 L536.1,461.6 L530.5,486.2 L525.0,484.1Z M531.9,452.2 L535.3,453.6 L531.9,499.4 L528.4,497.3Z M529.6,507.3 L533.6,507.3 L531.9,521.7 L527.9,519.9Z M533.7,503.8 L536.7,503.8 L534.9,520.1 L532.0,518.4Z M538.7,502.6 L541.5,502.6 L539.8,516.3 L537.0,514.6Z M544.2,502.8 L546.8,502.8 L545.1,525.8 L542.5,524.1Z M549.9,507.9 L552.8,507.9 L551.1,531.6 L548.2,529.9Z M589.7,458.0 L596.5,458.9 L596.5,473.5 L590.5,472.6Z M562.2,524.9 L574.2,523.2 L572.5,535.2 L563.1,536.9Z M435.0,506.2 L445.0,515.0 L455.0,527.5 L460.0,540.0 L467.5,550.0 L472.5,565.0 L470.0,575.0 L463.8,567.5 L460.0,555.0 L452.5,545.0 L445.0,532.5 L437.5,520.0Z M665.0,582.5 L690.0,582.5 L700.0,590.0 L690.0,600.0 L685.0,610.0 L690.0,620.0 L680.0,625.0 L665.0,627.5Z M653.8,582.5 L662.5,582.5 L662.5,600.0 L655.0,597.5Z M726.2,601.2 L732.5,600.0 L735.0,610.0 L730.0,616.2 L725.0,612.5Z M602.5,592.5 L610.0,593.8 L608.8,600.0 L602.5,598.8Z M650.0,627.5 L660.0,632.5 L661.2,641.2 L652.5,640.0Z M666.2,600.0 L690.0,600.0 L692.5,615.0 L698.8,627.5 L695.0,635.0 L687.5,637.5 L690.0,650.0 L682.5,652.5 L675.0,645.0 L667.5,635.0 L666.2,615.0Z M725.0,600.0 L733.8,600.0 L735.0,612.5 L727.5,615.0Z M1178.8,410.0 L1187.5,411.2 L1186.2,422.5 L1178.8,421.2Z M1130.0,433.8 L1137.5,435.0 L1135.0,441.2 L1130.0,440.0Z M1294.5,458.5 L1304.6,453.5 L1306.6,460.5 L1300.5,468.6 L1302.5,474.6 L1296.5,475.7 L1289.4,473.6 L1290.4,468.6Z M1283.4,490.8 L1290.4,488.8 L1288.4,496.8 L1285.4,504.9 L1280.3,509.9 L1274.3,513.0 L1272.3,519.0 L1266.2,520.0 L1267.2,516.0 L1273.3,509.9 L1278.3,500.9 L1281.4,494.8Z M1270.3,436.3 L1278.3,440.3 L1282.4,448.4 L1278.3,450.4 L1272.3,443.4Z"/>
<path fill="#e5e5e5" d="M742.0,456.2 L744.0,456.2 L745.0,468.8 L754.5,478.0 L753.0,483.0 L748.5,483.0 L742.5,472.5Z M742.0,512.5 L750.5,511.5 L757.0,520.5 L759.5,529.0 L755.5,530.5 L749.5,522.5 L742.0,515.0Z M751.2,503.0 L760.0,503.0 L757.5,508.0 L752.5,507.5Z M1015.0,527.5 L1025.0,530.0 L1030.0,545.0 L1022.5,550.0 L1015.0,545.0Z"/>
</g>
<filter id="roughA" x="-2%" y="-2%" width="104%" height="104%" color-interpolation-filters="sRGB"><feTurbulence type="fractalNoise" baseFrequency="0.09" numOctaves="2" seed="7" result="n"/><feDisplacementMap in="SourceGraphic" in2="n" scale="9" xChannelSelector="R" yChannelSelector="G" result="d"/><feTurbulence type="fractalNoise" baseFrequency="0.11" numOctaves="2" seed="23" result="n2"/><feColorMatrix in="n2" type="matrix" values="0 0 0 0 0  0 0 0 0 0  0 0 0 0 0  12 0 0 0 -7.6" result="m"/><feComposite in="d" in2="m" operator="out"/></filter>
<filter id="roughB" x="-2%" y="-2%" width="104%" height="104%" color-interpolation-filters="sRGB"><feTurbulence type="fractalNoise" baseFrequency="0.09" numOctaves="2" seed="7" result="n"/><feDisplacementMap in="SourceGraphic" in2="n" scale="9" xChannelSelector="R" yChannelSelector="G" result="d"/><feTurbulence type="fractalNoise" baseFrequency="0.16" numOctaves="3" seed="11" result="n2"/><feColorMatrix in="n2" type="matrix" values="0 0 0 0 0  0 0 0 0 0  0 0 0 0 0  14 0 0 0 -7.4" result="m"/><feComposite in="d" in2="m" operator="out"/></filter>
<filter id="roughC" x="-2%" y="-2%" width="104%" height="104%" color-interpolation-filters="sRGB"><feTurbulence type="fractalNoise" baseFrequency="0.09" numOctaves="2" seed="7" result="n"/><feDisplacementMap in="SourceGraphic" in2="n" scale="9" xChannelSelector="R" yChannelSelector="G" result="d"/><feTurbulence type="fractalNoise" baseFrequency="0.13" numOctaves="3" seed="5" result="n2"/><feColorMatrix in="n2" type="matrix" values="0 0 0 0 0  0 0 0 0 0  0 0 0 0 0  14 0 0 0 -6.6" result="m"/><feComposite in="d" in2="m" operator="out"/></filter>
<filter id="roughA2" x="-2%" y="-2%" width="104%" height="104%" color-interpolation-filters="sRGB"><feTurbulence type="fractalNoise" baseFrequency="0.09" numOctaves="2" seed="7" result="n"/><feDisplacementMap in="SourceGraphic" in2="n" scale="9" xChannelSelector="R" yChannelSelector="G" result="d"/><feTurbulence type="fractalNoise" baseFrequency="0.07" numOctaves="3" seed="31" result="n2"/><feColorMatrix in="n2" type="matrix" values="0 0 0 0 0  0 0 0 0 0  0 0 0 0 0  16 0 0 0 -8.3" result="m"/><feComposite in="d" in2="m" operator="out"/></filter>
<g filter="url(#roughA2)" stroke-linejoin="round">
<path d="M335.0,255.0 L345.0,256.2 L357.5,260.0 L365.0,265.0 L362.5,270.0 L355.0,267.5 L350.0,275.0 L352.5,285.0 L357.5,292.5 L355.0,300.0 L350.0,295.0 L346.2,282.5 L342.5,275.0 L337.5,265.0Z" fill="#e83a12" stroke="#e83a12" stroke-width="2"/>
<path d="M387.5,345.0 L395.0,340.0 L397.5,352.5 L395.0,365.0 L402.5,375.0 L405.0,385.0 L400.0,395.0 L392.5,400.0 L390.0,392.5 L392.5,380.0 L390.0,370.0 L388.8,357.5Z" fill="#e83a12" stroke="#e83a12" stroke-width="2"/>
<path d="M455.0,265.0 L470.0,267.5 L485.0,272.5 L492.5,280.0 L490.0,290.0 L480.0,282.5 L467.5,277.5 L457.5,272.5Z" fill="#fff000" stroke="#fff000" stroke-width="2"/>
<path d="M467.5,245.0 L480.0,252.5 L485.0,262.5 L475.0,262.5 L467.5,255.0Z" fill="#fff000" stroke="#fff000" stroke-width="2"/>
<path d="M355.0,327.5 L367.5,325.0 L375.0,335.0 L372.5,350.0 L365.0,360.0 L370.0,375.0 L362.5,390.0 L365.0,405.0 L355.0,412.5 L350.0,400.0 L355.0,382.5 L352.5,365.0 L357.5,350.0 L355.0,337.5Z" fill="#fff000" stroke="#fff000" stroke-width="2"/>
<path d="M402.5,330.0 L420.0,327.5 L432.5,332.5 L450.0,330.0 L460.0,327.5 L470.0,330.0 L460.0,337.5 L445.0,340.0 L430.0,342.5 L420.0,350.0 L410.0,345.0 L402.5,337.5Z" fill="#fff000" stroke="#fff000" stroke-width="2"/>
<path d="M500.0,270.0 L512.5,267.5 L520.0,282.5 L530.0,292.5 L522.5,302.5 L510.0,305.0 L502.5,295.0 L505.0,282.5Z" fill="#fff000" stroke="#fff000" stroke-width="2"/>
<path d="M557.5,395.0 L570.0,392.5 L592.5,392.5 L596.2,398.8 L590.0,410.0 L577.5,417.5 L565.0,415.0 L560.0,405.0Z" fill="#fff000" stroke="#fff000" stroke-width="2"/>
<path d="M400.0,455.0 L412.5,453.8 L413.8,462.5 L405.0,463.8Z" fill="#e83a12" stroke="#e83a12" stroke-width="2"/>
<path d="M402.5,432.5 L420.0,431.2 L422.5,440.0 L410.0,442.5Z" fill="#fff000" stroke="#fff000" stroke-width="2"/>
<path d="M490.0,425.0 L505.0,422.5 L512.5,435.0 L507.5,447.5 L500.0,445.0 L495.0,435.0Z" fill="#fff000" stroke="#fff000" stroke-width="2"/>
<path d="M500.0,460.0 L527.5,457.5 L530.0,475.0 L520.0,477.5 L510.0,472.5 L500.0,470.0Z" fill="#fff000" stroke="#fff000" stroke-width="2"/>
<path d="M1364.0,438.4 L1370.7,435.1 L1380.7,436.8 L1377.3,441.8 L1369.0,445.1 L1364.0,443.4Z" fill="#fff000" stroke="#fff000" stroke-width="2"/>
</g>
<g filter="url(#roughA)" stroke-linejoin="round">
<path d="M860.3,548.5 L860.3,544.3 L873.6,543.5 L885.3,540.2 L888.7,536.0 L898.7,533.5 L903.7,527.6 L909.6,525.1 L913.7,531.8 L920.4,528.5 L925.4,532.6 L932.1,534.3 L940.5,531.8 L948.8,532.6 L957.2,531.0 L965.5,531.8 L967.5,536.8 L967.5,550.2 L965.5,553.5 L957.2,556.9 L947.2,559.4 L940.5,555.2 L932.1,556.0 L927.1,558.5 L922.1,553.5 L913.7,551.9 L907.1,548.5 L898.7,548.5 L890.4,545.2 L882.0,547.7 L873.6,550.2 L865.3,550.2Z" fill="#f400f4" stroke="#f400f4" stroke-width="4"/>
<path d="M841.9,556.9 L850.3,554.4 L860.3,553.5 L878.7,554.4 L878.7,557.7 L867.0,558.5 L868.6,565.2 L872.0,571.9 L872.8,580.3 L865.3,580.3 L858.6,578.6 L855.3,570.2 L855.3,565.2 L846.9,563.6 L843.6,561.0Z" fill="#f400f4" stroke="#f400f4" stroke-width="4"/>
<path d="M855.3,566.9 L840.2,567.7 L833.6,570.2 L826.9,571.9 L821.9,576.9 L815.2,580.3 L813.5,586.9 L806.8,588.6 L800.1,589.4 L801.8,593.6 L810.2,595.3 L813.5,602.0 L810.2,605.3 L803.5,606.2 L802.6,612.0 L806.8,619.0 L810.2,630.4 L826.9,630.4 L826.9,619.0 L823.5,613.7 L826.9,608.7 L833.6,607.0 L835.2,600.3 L841.9,598.6 L846.9,592.0 L851.9,586.9 L851.9,578.6 L855.3,576.9Z" fill="#f400f4" stroke="#f400f4" stroke-width="4"/>
<path d="M765.1,594.5 L773.4,593.6 L781.8,594.5 L788.4,592.8 L788.4,600.3 L781.8,602.0 L775.1,599.5 L768.4,597.8Z" fill="#f400f4" stroke="#f400f4" stroke-width="3"/>
<path d="M969.7,541.8 L978.9,540.2 L980.6,531.8 L987.2,526.8 L990.6,521.8 L993.9,525.1 L994.8,533.5 L995.6,541.8 L997.3,548.5 L992.3,551.9 L1000.6,553.5 L1009.0,551.9 L1014.0,556.9 L1024.0,558.5 L1034.0,556.9 L1040.7,553.5 L1045.7,546.8 L1052.4,545.2 L1057.4,548.5 L1064.1,553.5 L1072.4,555.2 L1079.1,556.9 L1080.8,560.2 L1072.4,561.0 L1064.1,561.9 L1057.4,560.2 L1047.4,562.7 L1037.4,563.6 L1024.0,562.7 L1014.0,561.9 L1003.9,561.0 L997.3,562.7 L987.2,561.9 L980.6,556.9 L973.9,558.5 L969.7,555.2Z" fill="#f400f4" stroke="#f400f4" stroke-width="4"/>
<path d="M998.9,518.4 L1007.3,515.1 L1014.0,515.9 L1014.8,523.5 L1010.6,528.5 L1011.5,534.3 L1003.9,534.3 L1003.1,527.6 L998.9,523.5Z" fill="#f400f4" stroke="#f400f4" stroke-width="3"/>
<path d="M976.4,504.2 L982.2,503.4 L983.9,509.3 L978.1,510.1Z" fill="#f400f4" stroke="#f400f4" stroke-width="3"/>
<path d="M962.2,568.6 L968.9,566.9 L977.2,568.6 L987.2,567.7 L997.3,566.9 L1007.3,568.6 L1017.3,566.9 L1027.3,567.7 L1037.4,566.9 L1030.7,573.6 L1024.0,576.9 L1022.3,585.3 L1014.0,586.9 L1007.3,590.3 L997.3,585.3 L987.2,586.9 L980.6,583.6 L973.9,585.3 L970.5,578.6 L963.9,576.9Z" fill="#f400f4" stroke="#f400f4" stroke-width="4"/>
<path d="M1049.1,505.1 L1057.4,500.1 L1067.4,503.4 L1077.5,500.1 L1080.8,508.4 L1090.0,513.4 L1090.0,540.2 L1080.8,543.5 L1077.5,536.8 L1072.4,530.1 L1065.8,526.8 L1060.7,520.1 L1057.4,513.4 L1050.7,511.8Z" fill="#f400f4" stroke="#f400f4" stroke-width="4"/>
<path d="M1048.4,506.8 L1056.7,503.4 L1065.1,506.8 L1073.4,500.1 L1080.1,501.7 L1080.1,511.8 L1086.8,520.1 L1095.1,525.1 L1103.5,520.1 L1106.8,513.4 L1110.2,518.4 L1106.8,526.8 L1113.5,531.8 L1121.9,533.5 L1128.5,536.8 L1133.6,545.2 L1143.6,548.5 L1153.6,550.2 L1163.6,548.5 L1165.3,556.9 L1156.9,560.2 L1146.9,558.5 L1133.6,558.5 L1123.5,556.9 L1115.2,553.5 L1108.5,548.5 L1106.8,540.2 L1096.8,543.5 L1088.4,548.5 L1081.8,546.8 L1076.8,540.2 L1071.7,535.2 L1063.4,526.8 L1056.7,520.1 L1050.0,515.1Z" fill="#f400f4" stroke="#f400f4" stroke-width="4"/>
<path d="M1040.0,550.2 L1046.7,545.2 L1056.7,546.8 L1061.7,543.5 L1070.1,536.8 L1075.9,541.8 L1078.4,548.5 L1070.1,553.5 L1060.0,555.2 L1056.7,561.0 L1046.7,561.0 L1040.0,562.7 L1033.3,561.9 L1033.3,553.5Z" fill="#f400f4" stroke="#f400f4" stroke-width="4"/>
<path d="M1126.9,565.2 L1140.2,564.4 L1153.6,565.2 L1167.0,565.2 L1163.6,571.9 L1160.3,576.9 L1162.0,585.3 L1156.9,590.3 L1150.3,593.6 L1146.9,600.3 L1136.9,602.0 L1128.5,600.3 L1126.9,597.0 L1133.6,593.6 L1131.9,588.6 L1140.2,585.3 L1145.2,578.6 L1143.6,573.6 L1138.6,570.2 L1130.2,568.6Z" fill="#f400f4" stroke="#f400f4" stroke-width="4"/>
<path d="M1110.2,594.5 L1118.5,595.3 L1117.7,602.0 L1111.0,601.1Z" fill="#f400f4" stroke="#f400f4" stroke-width="3"/>
<path d="M1228.8,595.3 L1237.1,590.3 L1243.8,585.3 L1257.2,583.6 L1263.9,578.6 L1273.9,575.2 L1280.6,570.2 L1287.2,566.1 L1297.3,564.4 L1307.3,566.1 L1317.3,564.4 L1324.0,563.6 L1339.0,563.6 L1339.0,568.6 L1330.7,573.6 L1324.0,571.9 L1317.3,575.2 L1307.3,573.6 L1297.3,578.6 L1290.6,586.9 L1280.6,590.3 L1273.9,593.6 L1263.9,588.6 L1253.8,590.3 L1248.8,597.0 L1237.1,598.6Z" fill="#f400f4" stroke="#f400f4" stroke-width="4"/>
<path d="M1287.2,561.0 L1297.3,556.9 L1300.6,550.2 L1307.3,553.5 L1315.6,551.9 L1324.0,543.5 L1325.7,533.5 L1332.3,528.5 L1340.7,531.8 L1349.1,533.5 L1357.4,520.1 L1364.1,525.1 L1362.4,536.8 L1367.4,541.8 L1360.7,550.2 L1357.4,556.9 L1350.7,561.0Z" fill="#f400f4" stroke="#f400f4" stroke-width="4"/>
<path d="M1146.9,619.0 L1153.6,612.0 L1160.3,608.7 L1163.6,613.7 L1160.3,619.0 L1156.9,625.4 L1150.3,625.4Z" fill="#f400f4" stroke="#f400f4" stroke-width="3"/>
<path d="M1207.1,603.6 L1220.4,602.0 L1222.1,607.0 L1210.4,612.0Z" fill="#f400f4" stroke="#f400f4" stroke-width="3"/>
<path d="M1176.9,610.0 L1186.9,608.4 L1196.9,615.1 L1202.0,618.4 L1196.9,621.7 L1186.9,620.1 L1180.2,621.7Z" fill="#f400f4" stroke="#f400f4" stroke-width="4"/>
<path d="M762.5,612.5 L772.5,622.5 L785.0,625.0 L795.0,620.0 L805.0,607.5 L825.0,600.0 L837.5,600.0 L836.2,615.0 L835.0,627.5 L830.0,637.5 L822.5,642.5 L812.5,637.5 L800.0,635.0 L790.0,637.5 L782.5,650.0 L775.0,653.8 L770.0,645.0 L757.5,640.0 L750.0,635.0 L752.5,625.0Z" fill="#f400f4" stroke="#f400f4" stroke-width="4"/>
<path d="M380.0,482.5 L390.0,480.0 L400.0,487.5 L405.0,497.5 L410.0,510.0 L400.0,515.0 L392.5,510.0 L387.5,500.0 L382.5,492.5Z" fill="#f400f4" stroke="#f400f4" stroke-width="4"/>
<path d="M397.5,527.5 L407.5,525.0 L420.0,527.5 L427.5,537.5 L425.0,550.0 L415.0,550.0 L410.0,540.0 L402.5,535.0Z" fill="#f400f4" stroke="#f400f4" stroke-width="4"/>
<path d="M780.0,673.5 L790.0,671.8 L795.0,668.5 L803.4,666.0 L815.1,665.2 L820.1,658.5 L821.8,650.1 L828.4,645.1 L836.8,641.8 L843.5,636.8 L841.8,630.1 L836.8,621.7 L831.8,616.7 L840.1,614.2 L850.2,615.0 L855.2,618.4 L860.2,615.0 L866.9,611.7 L876.9,612.5 L886.9,613.4 L893.6,618.4 L900.3,621.7 L907.0,627.6 L917.0,627.6 L925.3,623.4 L930.4,616.7 L937.0,611.7 L945.4,610.9 L947.1,618.4 L943.7,625.1 L950.4,628.4 L957.1,630.1 L963.8,632.6 L970.4,635.1 L977.1,633.4 L985.5,638.4 L993.8,641.8 L1003.9,638.4 L1013.9,639.3 L1018.9,633.4 L1017.2,626.7 L1013.9,621.7 L1020.6,618.4 L1027.2,615.0 L1025.6,608.4 L1030.6,601.7 L1040.6,600.0 L1040.6,593.3 L1054.0,590.0 L1060.7,600.0 L1062.3,606.7 L1067.3,616.7 L1074.0,621.7 L1080.7,626.7 L1087.4,621.7 L1094.1,625.1 L1097.4,633.4 L1107.4,641.8 L1117.5,645.1 L1130.0,640.1 L1130.0,666.8 L1124.1,665.2 L1117.5,656.8 L1107.4,655.1 L1104.1,663.5 L1094.1,665.2 L1087.4,658.5 L1077.4,656.8 L1067.3,658.5 L1064.0,650.1 L1067.3,641.8 L1064.0,633.4 L1057.3,630.1 L1050.6,626.7 L1047.3,633.4 L1040.6,638.4 L1033.9,641.8 L1022.2,643.4 L1020.6,648.4 L1010.5,650.1 L997.2,651.8 L987.2,648.4 L982.1,645.1 L972.1,643.4 L963.8,641.8 L953.7,638.4 L947.1,636.8 L940.4,640.1 L930.4,641.8 L923.7,645.1 L917.0,643.4 L910.3,638.4 L903.6,640.1 L896.9,645.1 L893.6,641.8 L896.9,635.1 L890.3,630.1 L880.2,626.7 L870.2,623.4 L863.5,621.7 L858.5,626.7 L856.8,635.1 L851.8,638.4 L846.8,643.4 L838.5,646.8 L830.1,648.4 L825.1,655.1 L821.8,663.5 L816.8,668.5 L805.1,670.2 L798.4,675.2 L796.7,683.5 L791.7,680.2 L785.0,678.5 L780.0,680.2 L770.0,678.5 L770.0,673.5Z" fill="#f6a244" stroke="#f6a244" stroke-width="4"/>
<path d="M876.9,668.5 L885.2,666.8 L883.6,673.5 L878.6,678.5 L880.2,686.9 L875.2,681.9 L868.5,680.2 L866.9,676.8 L875.2,676.8Z" fill="#f6a244" stroke="#f6a244" stroke-width="3"/>
<path d="M895.3,649.3 L903.6,651.0 L902.8,654.3 L895.3,653.5Z" fill="#f6a244" stroke="#f6a244" stroke-width="2"/>
<path d="M1082.4,672.7 L1087.4,672.7 L1085.7,680.2 L1082.4,678.5Z" fill="#f6a244" stroke="#f6a244" stroke-width="2"/>
<path d="M1080.0,620.1 L1086.7,618.4 L1095.0,623.4 L1100.0,630.1 L1105.1,636.8 L1113.4,643.5 L1121.8,645.1 L1128.4,638.4 L1133.5,635.1 L1136.8,643.5 L1143.5,650.1 L1146.8,656.8 L1155.2,656.8 L1161.9,663.5 L1170.2,665.2 L1178.6,663.5 L1183.6,656.8 L1193.6,651.8 L1203.6,651.8 L1208.6,645.1 L1213.6,648.5 L1222.0,643.5 L1225.3,638.4 L1232.0,643.5 L1240.4,638.4 L1250.4,640.1 L1255.4,635.1 L1250.4,630.1 L1245.4,628.4 L1248.7,625.1 L1257.1,623.4 L1262.1,628.4 L1268.8,630.1 L1273.8,623.4 L1280.5,620.9 L1288.8,625.1 L1293.8,630.1 L1300.5,626.8 L1298.8,620.1 L1303.9,615.1 L1312.2,616.7 L1320.6,621.7 L1320.6,628.4 L1313.9,633.4 L1303.9,634.3 L1297.2,641.8 L1290.5,648.5 L1280.5,645.1 L1272.1,645.1 L1268.8,651.8 L1268.8,661.8 L1260.4,658.5 L1253.7,656.8 L1247.1,655.2 L1238.7,660.2 L1227.0,663.5 L1218.7,666.8 L1212.0,665.2 L1207.0,671.9 L1200.3,670.2 L1193.6,673.5 L1183.6,676.9 L1178.6,673.5 L1170.2,668.5 L1161.9,670.2 L1158.5,680.2 L1151.8,686.9 L1146.8,685.2 L1151.8,676.9 L1150.2,668.5 L1143.5,663.5 L1135.1,666.8 L1126.8,668.5 L1121.8,661.8 L1115.1,660.2 L1106.7,655.2 L1101.7,648.5 L1093.4,656.8 L1088.4,661.8 L1080.0,660.2Z" fill="#f6a244" stroke="#f6a244" stroke-width="4"/>
<path d="M1181.1,635.1 L1185.2,635.9 L1186.1,641.8 L1181.1,641.8Z" fill="#f6a244" stroke="#f6a244" stroke-width="2"/>
<path d="M1081.7,672.7 L1087.5,672.7 L1085.0,681.0Z" fill="#f6a244" stroke="#f6a244" stroke-width="2"/>
<path d="M1350.6,600.0 L1357.3,601.7 L1355.6,608.4 L1350.6,611.7 L1347.3,606.7Z" fill="#f6a244" stroke="#f6a244" stroke-width="2"/>
<path d="M430.0,577.5 L437.5,580.0 L442.5,592.5 L455.0,595.0 L460.0,602.5 L450.0,605.0 L440.0,600.0 L432.5,590.0Z" fill="#f6a244" stroke="#f6a244" stroke-width="3"/>
<path d="M785.0,700.2 L796.7,698.6 L806.7,700.2 L807.6,706.9 L811.7,711.1 L805.1,713.6 L798.4,711.9 L791.7,708.6 L786.7,705.2Z" fill="#00e6e6" stroke="#00e6e6" stroke-width="4"/>
<path d="M895.3,705.2 L903.6,701.9 L912.0,706.9 L922.0,708.6 L930.4,711.9 L940.4,710.3 L950.4,705.2 L957.1,701.9 L963.8,706.9 L973.8,705.2 L977.1,713.6 L987.2,715.3 L987.2,727.0 L980.5,733.6 L973.8,732.0 L967.1,735.3 L960.4,733.6 L958.8,725.3 L963.8,720.3 L957.1,713.6 L947.1,715.3 L937.0,716.9 L930.4,720.3 L927.0,727.0 L920.3,728.6 L912.0,725.3 L907.0,716.9 L900.3,713.6 L895.3,710.3Z" fill="#00e6e6" stroke="#00e6e6" stroke-width="6"/>
<path d="M990.5,716.9 L997.2,710.3 L1003.9,713.6 L1013.9,715.3 L1022.2,713.6 L1030.6,713.6 L1037.3,716.9 L1047.3,720.3 L1057.3,723.6 L1067.3,728.6 L1074.0,727.0 L1064.0,732.0 L1054.0,730.3 L1047.3,733.6 L1049.0,742.0 L1047.3,749.0 L1047.3,755.4 L1037.3,755.4 L1037.3,749.0 L1033.9,742.0 L1027.2,737.0 L1020.6,733.6 L1013.9,732.0 L1010.5,727.0 L1003.9,728.6 L995.5,727.0 L990.5,723.6Z" fill="#00e6e6" stroke="#00e6e6" stroke-width="9"/>
<path d="M992.2,703.6 L1002.2,700.2 L1003.9,706.9 L995.5,708.6Z" fill="#00e6e6" stroke="#00e6e6" stroke-width="3"/>
<path d="M908.6,656.8 L918.7,654.3 L925.3,658.5 L922.0,664.3 L913.6,666.8 L908.6,663.5Z" fill="#00e6e6" stroke="#00e6e6" stroke-width="4"/>
<path d="M1160.2,713.6 L1170.2,712.0 L1175.2,705.3 L1178.6,713.6 L1183.6,717.0 L1196.9,717.0 L1203.6,708.6 L1212.0,708.6 L1213.6,715.3 L1222.0,717.0 L1228.7,713.6 L1233.7,718.6 L1240.4,720.3 L1238.7,728.7 L1235.4,735.3 L1230.4,739.0 L1230.4,745.4 L1186.9,745.4 L1186.9,739.0 L1180.2,733.7 L1173.6,735.3 L1166.9,732.0 L1163.5,723.6Z" fill="#00e6e6" stroke="#00e6e6" stroke-width="7"/>
<path d="M1103.4,421.7 L1111.7,420.0 L1115.1,426.7 L1113.4,436.8 L1106.7,438.4 L1102.5,431.7Z" fill="#a8f0a8" stroke="#a8f0a8" stroke-width="2"/>
<path d="M1090.0,456.8 L1100.0,458.5 L1115.1,456.8 L1115.1,461.8 L1106.7,463.5 L1096.7,465.2 L1090.0,463.5 L1080.0,461.8 L1080.0,457.6Z" fill="#a8f0a8" stroke="#a8f0a8" stroke-width="2"/>
<path d="M1119.2,450.1 L1128.4,448.4 L1140.1,450.1 L1150.1,448.4 L1160.2,450.1 L1163.5,443.4 L1168.5,441.8 L1173.5,446.8 L1174.4,476.8 L1168.5,481.9 L1163.5,483.5 L1160.2,476.8 L1153.5,475.2 L1146.8,471.8 L1140.1,473.5 L1131.8,480.2 L1125.1,478.5 L1121.7,470.2 L1119.2,463.5Z" fill="#8fe88f" stroke="#8fe88f" stroke-width="7"/>
<path d="M1174.4,450.1 L1183.6,446.8 L1193.6,441.8 L1198.6,433.4 L1205.3,435.1 L1210.3,443.4 L1213.6,451.8 L1210.3,458.5 L1217.0,465.2 L1227.0,466.8 L1237.0,465.2 L1247.0,463.5 L1257.1,466.8 L1262.1,461.8 L1263.7,473.5 L1257.1,480.2 L1250.4,478.5 L1240.4,480.2 L1233.7,485.2 L1223.6,483.5 L1217.0,480.2 L1212.0,486.9 L1206.9,495.2 L1198.6,496.9 L1193.6,488.5 L1191.9,478.5 L1186.9,473.5 L1180.2,478.5 L1174.4,476.8Z" fill="#8fe88f" stroke="#8fe88f" stroke-width="7"/>
<path d="M1267.1,455.1 L1273.8,455.1 L1282.1,461.8 L1283.8,471.8 L1278.8,478.5 L1273.8,473.5 L1268.8,466.8Z" fill="#8fe88f" stroke="#8fe88f" stroke-width="6"/>
<path d="M1257.1,483.5 L1267.1,481.9 L1277.1,485.2 L1278.8,491.9 L1272.1,500.2 L1263.7,506.9 L1257.1,510.3 L1252.0,503.6 L1258.7,495.2Z" fill="#a8f0a8" stroke="#a8f0a8" stroke-width="2"/>
<path d="M1323.9,461.8 L1333.9,456.8 L1343.9,458.5 L1350.6,463.5 L1360.6,461.8 L1370.7,458.5 L1379.0,456.8 L1384.0,461.8 L1387.4,466.8 L1380.7,471.8 L1370.7,473.5 L1360.6,475.2 L1350.6,476.8 L1340.6,473.5 L1330.6,473.5 L1325.5,468.5Z" fill="#8fe88f" stroke="#8fe88f" stroke-width="8"/>
<path d="M1387.4,455.1 L1394.0,446.8 L1400.7,445.1 L1402.4,453.5 L1400.7,463.5 L1397.4,475.2 L1392.4,483.5 L1387.4,488.5 L1384.0,483.5 L1389.0,473.5 L1390.7,463.5Z" fill="#a8f0a8" stroke="#a8f0a8" stroke-width="2"/>
<path d="M865.5,792.0 L868.0,792.0 L868.0,794.8 L865.5,794.8Z" fill="#8a3fd9" stroke="#8a3fd9" stroke-width="1"/>
<path d="M887.5,834.0 L891.5,834.5 L891.0,837.5 L887.5,837.0Z" fill="#8a3fd9" stroke="#8a3fd9" stroke-width="1"/>
<path d="M1271.0,841.5 L1274.0,844.0 L1273.0,854.0 L1271.0,852.8Z" fill="#8a3fd9" stroke="#8a3fd9" stroke-width="1"/>
<path d="M841.2,759.0 L850.0,761.5 L862.5,760.2 L873.8,756.5 L875.0,765.2 L885.0,766.5 L892.5,769.0 L898.8,776.5 L902.5,784.0 L910.0,789.0 L907.5,799.0 L903.8,806.5 L900.0,816.5 L905.0,824.0 L911.2,831.5 L913.8,839.0 L910.0,836.5 L905.0,829.0 L898.8,819.0 L895.0,809.0 L892.5,799.0 L888.8,789.0 L892.5,781.5 L887.5,774.0 L877.5,771.5 L870.0,769.0 L860.0,766.5 L850.0,767.8 L843.8,765.2Z" fill="#aaec20" stroke="#aaec20" stroke-width="3"/>
<path d="M877.5,806.5 L882.5,811.5 L885.0,820.2 L880.0,821.5 L877.5,814.0Z" fill="#aaec20" stroke="#aaec20" stroke-width="2"/>
<path d="M1238.8,774.0 L1250.0,770.2 L1252.5,776.5 L1247.5,781.5 L1240.0,780.2Z" fill="#aaec20" stroke="#aaec20" stroke-width="3"/>
<path d="M1222.5,786.5 L1230.0,784.0 L1240.0,786.5 L1247.5,794.0 L1257.5,791.5 L1265.0,799.0 L1271.2,809.0 L1271.2,821.5 L1265.0,829.0 L1255.0,834.0 L1245.0,831.5 L1237.5,824.0 L1232.5,814.0 L1225.0,809.0 L1222.5,799.0 L1225.0,791.5Z" fill="#aaec20" stroke="#aaec20" stroke-width="4"/>
<path d="M520.0,642.5 L530.0,647.5 L540.0,657.5 L530.0,661.2 L522.5,652.5Z" fill="#aaec20" stroke="#aaec20" stroke-width="3"/>
<path d="M435.0,290.0 L445.0,292.5 L450.0,305.0 L457.5,307.5 L452.5,310.0 L442.5,305.0 L437.5,297.5Z" fill="#8fe88f" stroke="#8fe88f" stroke-width="2"/>
<path d="M432.5,318.8 L452.5,317.5 L453.8,322.5 L435.0,323.0Z" fill="#8fe88f" stroke="#8fe88f" stroke-width="2"/>
<path d="M497.5,375.0 L510.0,377.5 L520.0,385.0 L532.5,392.5 L540.0,400.0 L535.0,405.0 L525.0,400.0 L512.5,392.5 L500.0,385.0Z" fill="#8fe88f" stroke="#8fe88f" stroke-width="2"/>
<path d="M487.5,362.5 L495.0,362.5 L495.0,372.5 L490.0,370.0Z" fill="#8fe88f" stroke="#8fe88f" stroke-width="2"/>
<path d="M577.5,472.5 L590.0,475.0 L595.0,490.0 L590.0,505.0 L580.0,510.0 L572.5,502.5 L575.0,487.5Z" fill="#8fe88f" stroke="#8fe88f" stroke-width="4"/>
<path d="M808.4,713.6 L818.4,720.3 L820.1,727.0 L813.4,732.0 L803.4,737.0 L796.7,738.7 L783.3,742.0 L773.3,741.2" fill="none" stroke="#00e6e6" stroke-width="2"/>
<path d="M821.8,727.0 L835.1,733.6 L843.5,742.0 L855.2,747.0 L866.9,749.0 L873.6,747.0 L880.2,745.3 L883.6,742.0 L893.6,738.7 L896.9,730.3 L890.3,723.6 L886.9,713.6" fill="none" stroke="#00e6e6" stroke-width="2"/>
<path d="M812.5,717.5 L825.0,730.0 L840.0,740.0 L862.5,747.5 L887.5,745.0 L900.0,732.5 L912.5,725.0 L925.0,720.0" fill="none" stroke="#00e6e6" stroke-width="2"/>
<path d="M1077.4,716.9 L1097.4,722.0 L1114.1,724.5 L1130.0,723.6" fill="none" stroke="#00e6e6" stroke-width="3"/>
<path d="M1082.5,731.5 L1106.2,730.2 L1125.0,728.5 L1150.0,730.2 L1160.0,741.5" fill="none" stroke="#00e6e6" stroke-width="3"/>
<path d="M780.0,722.0 L790.0,720.3 L796.7,723.6 L795.0,730.3 L790.0,733.6 L780.0,735.3" fill="none" stroke="#f6a244" stroke-width="2"/>
<path d="M722.5,695.0 L735.0,705.0 L747.5,717.5 L757.5,730.0 L767.5,736.2 L782.5,730.0 L790.0,722.5 L775.0,717.5 L765.0,705.0 L760.0,695.0 L755.0,685.0" fill="none" stroke="#f6a244" stroke-width="2"/>
<path d="M760.0,660.0 L770.0,665.0 L775.0,675.0 L785.0,677.5" fill="none" stroke="#f6a244" stroke-width="3"/>
<path d="M761.2,717.5 L770.0,713.8 L775.0,730.0 L767.5,733.8 L762.5,730.0 L761.2,717.5" fill="none" stroke="#f400f4" stroke-width="3"/>
</g>
<g filter="url(#roughB)">
<path d="M860.3,548.5 L860.3,544.3 L873.6,543.5 L885.3,540.2 L888.7,536.0 L898.7,533.5 L903.7,527.6 L909.6,525.1 L913.7,531.8 L920.4,528.5 L925.4,532.6 L932.1,534.3 L940.5,531.8 L948.8,532.6 L957.2,531.0 L965.5,531.8 L967.5,536.8 L967.5,550.2 L965.5,553.5 L957.2,556.9 L947.2,559.4 L940.5,555.2 L932.1,556.0 L927.1,558.5 L922.1,553.5 L913.7,551.9 L907.1,548.5 L898.7,548.5 L890.4,545.2 L882.0,547.7 L873.6,550.2 L865.3,550.2Z" fill="#b000b2"/>
<path d="M841.9,556.9 L850.3,554.4 L860.3,553.5 L878.7,554.4 L878.7,557.7 L867.0,558.5 L868.6,565.2 L872.0,571.9 L872.8,580.3 L865.3,580.3 L858.6,578.6 L855.3,570.2 L855.3,565.2 L846.9,563.6 L843.6,561.0Z" fill="#b000b2"/>
<path d="M855.3,566.9 L840.2,567.7 L833.6,570.2 L826.9,571.9 L821.9,576.9 L815.2,580.3 L813.5,586.9 L806.8,588.6 L800.1,589.4 L801.8,593.6 L810.2,595.3 L813.5,602.0 L810.2,605.3 L803.5,606.2 L802.6,612.0 L806.8,619.0 L810.2,630.4 L826.9,630.4 L826.9,619.0 L823.5,613.7 L826.9,608.7 L833.6,607.0 L835.2,600.3 L841.9,598.6 L846.9,592.0 L851.9,586.9 L851.9,578.6 L855.3,576.9Z" fill="#b000b2"/>
<path d="M765.1,594.5 L773.4,593.6 L781.8,594.5 L788.4,592.8 L788.4,600.3 L781.8,602.0 L775.1,599.5 L768.4,597.8Z" fill="#b000b2"/>
<path d="M969.7,541.8 L978.9,540.2 L980.6,531.8 L987.2,526.8 L990.6,521.8 L993.9,525.1 L994.8,533.5 L995.6,541.8 L997.3,548.5 L992.3,551.9 L1000.6,553.5 L1009.0,551.9 L1014.0,556.9 L1024.0,558.5 L1034.0,556.9 L1040.7,553.5 L1045.7,546.8 L1052.4,545.2 L1057.4,548.5 L1064.1,553.5 L1072.4,555.2 L1079.1,556.9 L1080.8,560.2 L1072.4,561.0 L1064.1,561.9 L1057.4,560.2 L1047.4,562.7 L1037.4,563.6 L1024.0,562.7 L1014.0,561.9 L1003.9,561.0 L997.3,562.7 L987.2,561.9 L980.6,556.9 L973.9,558.5 L969.7,555.2Z" fill="#b000b2"/>
<path d="M998.9,518.4 L1007.3,515.1 L1014.0,515.9 L1014.8,523.5 L1010.6,528.5 L1011.5,534.3 L1003.9,534.3 L1003.1,527.6 L998.9,523.5Z" fill="#b000b2"/>
<path d="M976.4,504.2 L982.2,503.4 L983.9,509.3 L978.1,510.1Z" fill="#b000b2"/>
<path d="M962.2,568.6 L968.9,566.9 L977.2,568.6 L987.2,567.7 L997.3,566.9 L1007.3,568.6 L1017.3,566.9 L1027.3,567.7 L1037.4,566.9 L1030.7,573.6 L1024.0,576.9 L1022.3,585.3 L1014.0,586.9 L1007.3,590.3 L997.3,585.3 L987.2,586.9 L980.6,583.6 L973.9,585.3 L970.5,578.6 L963.9,576.9Z" fill="#b000b2"/>
<path d="M1049.1,505.1 L1057.4,500.1 L1067.4,503.4 L1077.5,500.1 L1080.8,508.4 L1090.0,513.4 L1090.0,540.2 L1080.8,543.5 L1077.5,536.8 L1072.4,530.1 L1065.8,526.8 L1060.7,520.1 L1057.4,513.4 L1050.7,511.8Z" fill="#b000b2"/>
<path d="M1048.4,506.8 L1056.7,503.4 L1065.1,506.8 L1073.4,500.1 L1080.1,501.7 L1080.1,511.8 L1086.8,520.1 L1095.1,525.1 L1103.5,520.1 L1106.8,513.4 L1110.2,518.4 L1106.8,526.8 L1113.5,531.8 L1121.9,533.5 L1128.5,536.8 L1133.6,545.2 L1143.6,548.5 L1153.6,550.2 L1163.6,548.5 L1165.3,556.9 L1156.9,560.2 L1146.9,558.5 L1133.6,558.5 L1123.5,556.9 L1115.2,553.5 L1108.5,548.5 L1106.8,540.2 L1096.8,543.5 L1088.4,548.5 L1081.8,546.8 L1076.8,540.2 L1071.7,535.2 L1063.4,526.8 L1056.7,520.1 L1050.0,515.1Z" fill="#b000b2"/>
<path d="M1040.0,550.2 L1046.7,545.2 L1056.7,546.8 L1061.7,543.5 L1070.1,536.8 L1075.9,541.8 L1078.4,548.5 L1070.1,553.5 L1060.0,555.2 L1056.7,561.0 L1046.7,561.0 L1040.0,562.7 L1033.3,561.9 L1033.3,553.5Z" fill="#b000b2"/>
<path d="M1126.9,565.2 L1140.2,564.4 L1153.6,565.2 L1167.0,565.2 L1163.6,571.9 L1160.3,576.9 L1162.0,585.3 L1156.9,590.3 L1150.3,593.6 L1146.9,600.3 L1136.9,602.0 L1128.5,600.3 L1126.9,597.0 L1133.6,593.6 L1131.9,588.6 L1140.2,585.3 L1145.2,578.6 L1143.6,573.6 L1138.6,570.2 L1130.2,568.6Z" fill="#b000b2"/>
<path d="M1110.2,594.5 L1118.5,595.3 L1117.7,602.0 L1111.0,601.1Z" fill="#b000b2"/>
<path d="M1228.8,595.3 L1237.1,590.3 L1243.8,585.3 L1257.2,583.6 L1263.9,578.6 L1273.9,575.2 L1280.6,570.2 L1287.2,566.1 L1297.3,564.4 L1307.3,566.1 L1317.3,564.4 L1324.0,563.6 L1339.0,563.6 L1339.0,568.6 L1330.7,573.6 L1324.0,571.9 L1317.3,575.2 L1307.3,573.6 L1297.3,578.6 L1290.6,586.9 L1280.6,590.3 L1273.9,593.6 L1263.9,588.6 L1253.8,590.3 L1248.8,597.0 L1237.1,598.6Z" fill="#b000b2"/>
<path d="M1287.2,561.0 L1297.3,556.9 L1300.6,550.2 L1307.3,553.5 L1315.6,551.9 L1324.0,543.5 L1325.7,533.5 L1332.3,528.5 L1340.7,531.8 L1349.1,533.5 L1357.4,520.1 L1364.1,525.1 L1362.4,536.8 L1367.4,541.8 L1360.7,550.2 L1357.4,556.9 L1350.7,561.0Z" fill="#b000b2"/>
<path d="M1146.9,619.0 L1153.6,612.0 L1160.3,608.7 L1163.6,613.7 L1160.3,619.0 L1156.9,625.4 L1150.3,625.4Z" fill="#b000b2"/>
<path d="M1207.1,603.6 L1220.4,602.0 L1222.1,607.0 L1210.4,612.0Z" fill="#b000b2"/>
<path d="M1176.9,610.0 L1186.9,608.4 L1196.9,615.1 L1202.0,618.4 L1196.9,621.7 L1186.9,620.1 L1180.2,621.7Z" fill="#b000b2"/>
<path d="M762.5,612.5 L772.5,622.5 L785.0,625.0 L795.0,620.0 L805.0,607.5 L825.0,600.0 L837.5,600.0 L836.2,615.0 L835.0,627.5 L830.0,637.5 L822.5,642.5 L812.5,637.5 L800.0,635.0 L790.0,637.5 L782.5,650.0 L775.0,653.8 L770.0,645.0 L757.5,640.0 L750.0,635.0 L752.5,625.0Z" fill="#b000b2"/>
<path d="M380.0,482.5 L390.0,480.0 L400.0,487.5 L405.0,497.5 L410.0,510.0 L400.0,515.0 L392.5,510.0 L387.5,500.0 L382.5,492.5Z" fill="#b000b2"/>
<path d="M397.5,527.5 L407.5,525.0 L420.0,527.5 L427.5,537.5 L425.0,550.0 L415.0,550.0 L410.0,540.0 L402.5,535.0Z" fill="#b000b2"/>
<path d="M780.0,673.5 L790.0,671.8 L795.0,668.5 L803.4,666.0 L815.1,665.2 L820.1,658.5 L821.8,650.1 L828.4,645.1 L836.8,641.8 L843.5,636.8 L841.8,630.1 L836.8,621.7 L831.8,616.7 L840.1,614.2 L850.2,615.0 L855.2,618.4 L860.2,615.0 L866.9,611.7 L876.9,612.5 L886.9,613.4 L893.6,618.4 L900.3,621.7 L907.0,627.6 L917.0,627.6 L925.3,623.4 L930.4,616.7 L937.0,611.7 L945.4,610.9 L947.1,618.4 L943.7,625.1 L950.4,628.4 L957.1,630.1 L963.8,632.6 L970.4,635.1 L977.1,633.4 L985.5,638.4 L993.8,641.8 L1003.9,638.4 L1013.9,639.3 L1018.9,633.4 L1017.2,626.7 L1013.9,621.7 L1020.6,618.4 L1027.2,615.0 L1025.6,608.4 L1030.6,601.7 L1040.6,600.0 L1040.6,593.3 L1054.0,590.0 L1060.7,600.0 L1062.3,606.7 L1067.3,616.7 L1074.0,621.7 L1080.7,626.7 L1087.4,621.7 L1094.1,625.1 L1097.4,633.4 L1107.4,641.8 L1117.5,645.1 L1130.0,640.1 L1130.0,666.8 L1124.1,665.2 L1117.5,656.8 L1107.4,655.1 L1104.1,663.5 L1094.1,665.2 L1087.4,658.5 L1077.4,656.8 L1067.3,658.5 L1064.0,650.1 L1067.3,641.8 L1064.0,633.4 L1057.3,630.1 L1050.6,626.7 L1047.3,633.4 L1040.6,638.4 L1033.9,641.8 L1022.2,643.4 L1020.6,648.4 L1010.5,650.1 L997.2,651.8 L987.2,648.4 L982.1,645.1 L972.1,643.4 L963.8,641.8 L953.7,638.4 L947.1,636.8 L940.4,640.1 L930.4,641.8 L923.7,645.1 L917.0,643.4 L910.3,638.4 L903.6,640.1 L896.9,645.1 L893.6,641.8 L896.9,635.1 L890.3,630.1 L880.2,626.7 L870.2,623.4 L863.5,621.7 L858.5,626.7 L856.8,635.1 L851.8,638.4 L846.8,643.4 L838.5,646.8 L830.1,648.4 L825.1,655.1 L821.8,663.5 L816.8,668.5 L805.1,670.2 L798.4,675.2 L796.7,683.5 L791.7,680.2 L785.0,678.5 L780.0,680.2 L770.0,678.5 L770.0,673.5Z" fill="#dc7814"/>
<path d="M876.9,668.5 L885.2,666.8 L883.6,673.5 L878.6,678.5 L880.2,686.9 L875.2,681.9 L868.5,680.2 L866.9,676.8 L875.2,676.8Z" fill="#dc7814"/>
<path d="M895.3,649.3 L903.6,651.0 L902.8,654.3 L895.3,653.5Z" fill="#dc7814"/>
<path d="M1082.4,672.7 L1087.4,672.7 L1085.7,680.2 L1082.4,678.5Z" fill="#dc7814"/>
<path d="M1080.0,620.1 L1086.7,618.4 L1095.0,623.4 L1100.0,630.1 L1105.1,636.8 L1113.4,643.5 L1121.8,645.1 L1128.4,638.4 L1133.5,635.1 L1136.8,643.5 L1143.5,650.1 L1146.8,656.8 L1155.2,656.8 L1161.9,663.5 L1170.2,665.2 L1178.6,663.5 L1183.6,656.8 L1193.6,651.8 L1203.6,651.8 L1208.6,645.1 L1213.6,648.5 L1222.0,643.5 L1225.3,638.4 L1232.0,643.5 L1240.4,638.4 L1250.4,640.1 L1255.4,635.1 L1250.4,630.1 L1245.4,628.4 L1248.7,625.1 L1257.1,623.4 L1262.1,628.4 L1268.8,630.1 L1273.8,623.4 L1280.5,620.9 L1288.8,625.1 L1293.8,630.1 L1300.5,626.8 L1298.8,620.1 L1303.9,615.1 L1312.2,616.7 L1320.6,621.7 L1320.6,628.4 L1313.9,633.4 L1303.9,634.3 L1297.2,641.8 L1290.5,648.5 L1280.5,645.1 L1272.1,645.1 L1268.8,651.8 L1268.8,661.8 L1260.4,658.5 L1253.7,656.8 L1247.1,655.2 L1238.7,660.2 L1227.0,663.5 L1218.7,666.8 L1212.0,665.2 L1207.0,671.9 L1200.3,670.2 L1193.6,673.5 L1183.6,676.9 L1178.6,673.5 L1170.2,668.5 L1161.9,670.2 L1158.5,680.2 L1151.8,686.9 L1146.8,685.2 L1151.8,676.9 L1150.2,668.5 L1143.5,663.5 L1135.1,666.8 L1126.8,668.5 L1121.8,661.8 L1115.1,660.2 L1106.7,655.2 L1101.7,648.5 L1093.4,656.8 L1088.4,661.8 L1080.0,660.2Z" fill="#dc7814"/>
<path d="M1181.1,635.1 L1185.2,635.9 L1186.1,641.8 L1181.1,641.8Z" fill="#dc7814"/>
<path d="M1081.7,672.7 L1087.5,672.7 L1085.0,681.0Z" fill="#dc7814"/>
<path d="M1350.6,600.0 L1357.3,601.7 L1355.6,608.4 L1350.6,611.7 L1347.3,606.7Z" fill="#dc7814"/>
<path d="M430.0,577.5 L437.5,580.0 L442.5,592.5 L455.0,595.0 L460.0,602.5 L450.0,605.0 L440.0,600.0 L432.5,590.0Z" fill="#dc7814"/>
<path d="M785.0,700.2 L796.7,698.6 L806.7,700.2 L807.6,706.9 L811.7,711.1 L805.1,713.6 L798.4,711.9 L791.7,708.6 L786.7,705.2Z" fill="#00b0b0"/>
<path d="M895.3,705.2 L903.6,701.9 L912.0,706.9 L922.0,708.6 L930.4,711.9 L940.4,710.3 L950.4,705.2 L957.1,701.9 L963.8,706.9 L973.8,705.2 L977.1,713.6 L987.2,715.3 L987.2,727.0 L980.5,733.6 L973.8,732.0 L967.1,735.3 L960.4,733.6 L958.8,725.3 L963.8,720.3 L957.1,713.6 L947.1,715.3 L937.0,716.9 L930.4,720.3 L927.0,727.0 L920.3,728.6 L912.0,725.3 L907.0,716.9 L900.3,713.6 L895.3,710.3Z" fill="#00b0b0"/>
<path d="M990.5,716.9 L997.2,710.3 L1003.9,713.6 L1013.9,715.3 L1022.2,713.6 L1030.6,713.6 L1037.3,716.9 L1047.3,720.3 L1057.3,723.6 L1067.3,728.6 L1074.0,727.0 L1064.0,732.0 L1054.0,730.3 L1047.3,733.6 L1049.0,742.0 L1047.3,749.0 L1047.3,755.4 L1037.3,755.4 L1037.3,749.0 L1033.9,742.0 L1027.2,737.0 L1020.6,733.6 L1013.9,732.0 L1010.5,727.0 L1003.9,728.6 L995.5,727.0 L990.5,723.6Z" fill="#00b0b0"/>
<path d="M992.2,703.6 L1002.2,700.2 L1003.9,706.9 L995.5,708.6Z" fill="#00b0b0"/>
<path d="M908.6,656.8 L918.7,654.3 L925.3,658.5 L922.0,664.3 L913.6,666.8 L908.6,663.5Z" fill="#00b0b0"/>
<path d="M1160.2,713.6 L1170.2,712.0 L1175.2,705.3 L1178.6,713.6 L1183.6,717.0 L1196.9,717.0 L1203.6,708.6 L1212.0,708.6 L1213.6,715.3 L1222.0,717.0 L1228.7,713.6 L1233.7,718.6 L1240.4,720.3 L1238.7,728.7 L1235.4,735.3 L1230.4,739.0 L1230.4,745.4 L1186.9,745.4 L1186.9,739.0 L1180.2,733.7 L1173.6,735.3 L1166.9,732.0 L1163.5,723.6Z" fill="#00b0b0"/>
<path d="M1103.4,421.7 L1111.7,420.0 L1115.1,426.7 L1113.4,436.8 L1106.7,438.4 L1102.5,431.7Z" fill="#8fe88f"/>
<path d="M1090.0,456.8 L1100.0,458.5 L1115.1,456.8 L1115.1,461.8 L1106.7,463.5 L1096.7,465.2 L1090.0,463.5 L1080.0,461.8 L1080.0,457.6Z" fill="#8fe88f"/>
<path d="M1257.1,483.5 L1267.1,481.9 L1277.1,485.2 L1278.8,491.9 L1272.1,500.2 L1263.7,506.9 L1257.1,510.3 L1252.0,503.6 L1258.7,495.2Z" fill="#8fe88f"/>
<path d="M1387.4,455.1 L1394.0,446.8 L1400.7,445.1 L1402.4,453.5 L1400.7,463.5 L1397.4,475.2 L1392.4,483.5 L1387.4,488.5 L1384.0,483.5 L1389.0,473.5 L1390.7,463.5Z" fill="#8fe88f"/>
</g>
<g filter="url(#roughC)">
<path d="M1119.2,450.1 L1128.4,448.4 L1140.1,450.1 L1150.1,448.4 L1160.2,450.1 L1163.5,443.4 L1168.5,441.8 L1173.5,446.8 L1174.4,476.8 L1168.5,481.9 L1163.5,483.5 L1160.2,476.8 L1153.5,475.2 L1146.8,471.8 L1140.1,473.5 L1131.8,480.2 L1125.1,478.5 L1121.7,470.2 L1119.2,463.5Z" fill="#2c8a2c"/>
<path d="M1174.4,450.1 L1183.6,446.8 L1193.6,441.8 L1198.6,433.4 L1205.3,435.1 L1210.3,443.4 L1213.6,451.8 L1210.3,458.5 L1217.0,465.2 L1227.0,466.8 L1237.0,465.2 L1247.0,463.5 L1257.1,466.8 L1262.1,461.8 L1263.7,473.5 L1257.1,480.2 L1250.4,478.5 L1240.4,480.2 L1233.7,485.2 L1223.6,483.5 L1217.0,480.2 L1212.0,486.9 L1206.9,495.2 L1198.6,496.9 L1193.6,488.5 L1191.9,478.5 L1186.9,473.5 L1180.2,478.5 L1174.4,476.8Z" fill="#2c8a2c"/>
<path d="M1267.1,455.1 L1273.8,455.1 L1282.1,461.8 L1283.8,471.8 L1278.8,478.5 L1273.8,473.5 L1268.8,466.8Z" fill="#2c8a2c"/>
<path d="M1323.9,461.8 L1333.9,456.8 L1343.9,458.5 L1350.6,463.5 L1360.6,461.8 L1370.7,458.5 L1379.0,456.8 L1384.0,461.8 L1387.4,466.8 L1380.7,471.8 L1370.7,473.5 L1360.6,475.2 L1350.6,476.8 L1340.6,473.5 L1330.6,473.5 L1325.5,468.5Z" fill="#2c8a2c"/>
<path d="M841.2,759.0 L850.0,761.5 L862.5,760.2 L873.8,756.5 L875.0,765.2 L885.0,766.5 L892.5,769.0 L898.8,776.5 L902.5,784.0 L910.0,789.0 L907.5,799.0 L903.8,806.5 L900.0,816.5 L905.0,824.0 L911.2,831.5 L913.8,839.0 L910.0,836.5 L905.0,829.0 L898.8,819.0 L895.0,809.0 L892.5,799.0 L888.8,789.0 L892.5,781.5 L887.5,774.0 L877.5,771.5 L870.0,769.0 L860.0,766.5 L850.0,767.8 L843.8,765.2Z" fill="#6cae10"/>
<path d="M877.5,806.5 L882.5,811.5 L885.0,820.2 L880.0,821.5 L877.5,814.0Z" fill="#6cae10"/>
<path d="M1238.8,774.0 L1250.0,770.2 L1252.5,776.5 L1247.5,781.5 L1240.0,780.2Z" fill="#6cae10"/>
<path d="M1222.5,786.5 L1230.0,784.0 L1240.0,786.5 L1247.5,794.0 L1257.5,791.5 L1265.0,799.0 L1271.2,809.0 L1271.2,821.5 L1265.0,829.0 L1255.0,834.0 L1245.0,831.5 L1237.5,824.0 L1232.5,814.0 L1225.0,809.0 L1222.5,799.0 L1225.0,791.5Z" fill="#6cae10"/>
<path d="M520.0,642.5 L530.0,647.5 L540.0,657.5 L530.0,661.2 L522.5,652.5Z" fill="#6cae10"/>
<path d="M435.0,290.0 L445.0,292.5 L450.0,305.0 L457.5,307.5 L452.5,310.0 L442.5,305.0 L437.5,297.5Z" fill="#2c8a2c"/>
<path d="M432.5,318.8 L452.5,317.5 L453.8,322.5 L435.0,323.0Z" fill="#2c8a2c"/>
<path d="M497.5,375.0 L510.0,377.5 L520.0,385.0 L532.5,392.5 L540.0,400.0 L535.0,405.0 L525.0,400.0 L512.5,392.5 L500.0,385.0Z" fill="#2c8a2c"/>
<path d="M487.5,362.5 L495.0,362.5 L495.0,372.5 L490.0,370.0Z" fill="#2c8a2c"/>
<path d="M577.5,472.5 L590.0,475.0 L595.0,490.0 L590.0,505.0 L580.0,510.0 L572.5,502.5 L575.0,487.5Z" fill="#2c8a2c"/>
</g>
</g>
<path class="b" d="M375.0,235.5 L955.0,235.5 L955.0,225.5 L965.0,225.5 L967.5,241.2 L975.0,243.8 L985.0,246.8 L992.5,245.0 L1005.0,246.2 L1011.2,251.2 L1020.0,253.8 L1030.0,258.0 L1040.0,259.2 L1047.5,255.0 L1055.0,257.5 L1065.0,258.8 L1076.2,261.8 L1060.0,268.8 L1045.0,276.2 L1035.0,282.5 L1025.0,290.5 L1017.5,296.2 L1030.0,293.0 L1042.5,290.0 L1046.2,293.8 L1048.0,298.0 L1052.5,298.0 L1062.5,295.0 L1070.0,292.5 L1082.5,287.5 L1095.0,280.0 L1105.0,276.2 L1113.8,276.2 L1110.0,281.2 L1102.5,287.0 L1097.5,293.8 L1105.0,292.5 L1115.0,295.0 L1122.5,300.0 L1132.5,301.2 L1145.0,296.2 L1160.0,295.0 L1171.2,293.8 L1172.5,300.0 L1181.2,301.2 L1190.0,301.2 L1191.2,311.2 L1193.8,315.0 L1183.6,313.5 L1177.3,314.3 L1174.2,315.9 L1167.9,312.8 L1158.5,313.5 L1149.1,318.3 L1142.8,319.0 L1134.9,318.3 L1130.2,317.5 L1125.5,320.6 L1120.0,328.5 L1114.9,336.3 L1110.6,342.6 L1106.4,348.1 L1104.8,352.5 L1109.8,351.9 L1114.9,347.8 L1121.1,339.9 L1127.1,333.6 L1131.8,327.4 L1134.5,323.4 L1135.3,323.8 L1132.6,330.0 L1127.9,337.1 L1122.4,344.9 L1119.2,352.8 L1117.4,362.2 L1114.2,371.6 L1111.9,381.1 L1111.1,392.0 L1112.7,403.0 L1114.9,414.0 L1117.4,423.4 L1121.1,428.1 L1127.1,429.1 L1133.4,426.6 L1138.1,420.3 L1142.8,412.4 L1145.9,404.6 L1145.1,398.3 L1142.8,390.5 L1140.4,382.6 L1138.9,374.8 L1139.7,365.4 L1142.8,357.5 L1144.4,349.7 L1147.5,344.2 L1152.2,340.2 L1158.5,335.5 L1164.8,330.0 L1167.9,324.5 L1172.6,319.0 L1180.5,321.4 L1188.3,325.3 L1196.2,329.2 L1202.4,332.4 L1207.2,338.7 L1205.6,348.1 L1204.0,355.9 L1199.3,362.2 L1194.6,366.9 L1193.0,371.6 L1196.2,375.6 L1200.9,373.2 L1205.6,368.5 L1211.9,365.4 L1218.1,366.9 L1221.3,373.2 L1223.6,384.2 L1224.4,393.6 L1221.3,403.0 L1216.6,406.2 L1213.4,412.4 L1208.7,417.2 L1205.6,423.4 L1204.0,428.1 L1212.5,430.0 L1215.0,433.8 L1225.0,433.8 L1237.5,431.2 L1250.0,426.2 L1265.0,421.2 L1280.0,413.8 L1283.0,412.0 L1296.2,405.0 L1298.8,395.0 L1295.0,386.2 L1305.0,383.8 L1320.0,385.5 L1332.5,383.8 L1345.0,380.0 L1352.5,376.2 L1354.2,368.8 L1351.2,364.5 L1360.0,358.8 L1367.5,351.2 L1375.0,345.0 L1383.8,340.5 L1415.0,340.5 L1453.8,340.5 L1457.5,333.8 L1463.8,331.2 L1470.0,330.0 L1473.8,322.5 L1480.0,316.2 L1481.2,307.5 L1485.0,297.5 L1491.2,290.0 L1497.5,282.5 L1503.8,275.0 L1507.5,278.8 L1513.8,280.0 L1522.5,277.5 L1530.0,281.2 L1534.5,287.5 L1535.0,320.0 L1541.2,325.0 L1541.2,332.5 L1548.8,337.5 L1550.5,343.8 L1545.0,348.8 L1537.5,351.2 L1530.0,353.8 L1520.0,356.2 L1511.2,355.0 L1510.0,360.0 L1502.5,365.0 L1495.0,370.0 L1488.8,373.8 L1481.2,380.0 L1475.0,387.5 L1470.0,395.0 L1470.0,395.5 L1472.5,402.5 L1467.5,410.0 L1470.0,416.2 L1475.0,420.0 L1480.0,422.5 L1483.8,417.5 L1487.0,423.8 L1486.2,430.0 L1480.0,432.5 L1473.8,433.8 L1470.0,435.0 L1465.0,430.5 L1460.0,432.5 L1455.0,434.5 L1450.0,437.5 L1440.0,439.0 L1430.0,440.2 L1420.0,442.0 L1410.0,445.0 L1406.2,448.0 L1417.5,447.0 L1430.0,444.5 L1442.5,442.0 L1447.5,443.8 L1440.0,447.5 L1430.0,451.2 L1420.0,455.0 L1407.5,457.5 L1400.0,458.8 L1400.0,458.7 L1403.4,462.5 L1403.0,470.6 L1400.8,478.7 L1396.9,486.7 L1390.9,493.2 L1385.7,498.9 L1382.4,500.3 L1379.2,495.2 L1375.6,490.8 L1372.5,484.7 L1369.7,479.9 L1367.1,480.2 L1368.5,486.9 L1371.1,493.6 L1375.2,500.4 L1379.2,505.8 L1381.2,511.1 L1380.6,516.5 L1377.9,523.3 L1374.5,528.6 L1371.8,532.7 L1368.5,538.1 L1365.8,543.4 L1361.7,548.8 L1360.4,552.2 L1362.4,556.9 L1364.1,563.0 L1364.0,565.0 L1365.0,567.5 L1367.5,575.0 L1370.0,582.5 L1362.5,585.5 L1355.0,590.0 L1347.5,590.5 L1352.5,597.5 L1356.2,606.2 L1347.5,611.2 L1338.8,610.0 L1331.2,613.0 L1330.0,620.0 L1322.5,625.0 L1317.5,632.0 L1307.5,633.0 L1301.2,638.8 L1295.0,645.0 L1291.2,652.5 L1280.0,660.0 L1270.0,666.2 L1260.0,672.5 L1253.8,680.0 L1253.8,687.5 L1250.0,695.0 L1247.0,703.0 L1253.8,682.5 L1250.0,692.5 L1245.0,705.0 L1242.5,716.2 L1248.8,731.5 L1252.5,746.5 L1257.5,764.0 L1262.5,781.5 L1267.5,799.0 L1272.5,816.5 L1275.5,829.0 L1275.0,839.0 L1272.5,849.0 L1267.5,860.2 L1262.5,864.0 L1253.8,864.0 L1250.0,860.2 L1243.8,851.5 L1237.5,841.5 L1233.8,829.0 L1230.0,821.5 L1226.2,816.5 L1222.5,804.0 L1221.2,794.0 L1217.5,789.0 L1220.0,776.5 L1217.5,765.2 L1212.5,757.8 L1206.2,750.2 L1200.0,742.8 L1193.8,735.2 L1186.2,733.5 L1177.5,739.0 L1167.5,742.8 L1161.2,742.8 L1157.5,735.2 L1150.0,729.0 L1137.5,727.0 L1125.0,727.8 L1116.2,726.0 L1106.2,729.5 L1097.5,728.5 L1090.0,729.0 L1082.5,731.5 L1087.5,741.5 L1080.0,749.0 L1085.0,757.8 L1078.8,762.8 L1072.5,756.5 L1067.5,750.2 L1061.2,759.0 L1055.0,755.2 L1050.0,760.2 L1043.8,757.8 L1036.2,751.5 L1030.0,744.0 L1023.8,741.5 L1020.0,747.8 L1012.5,746.5 L1000.0,742.0 L985.0,742.8 L970.0,747.8 L962.5,749.0 L957.5,756.5 L950.0,762.8 L940.0,767.8 L930.0,771.5 L920.0,779.0 L912.5,786.5 L906.2,792.8 L907.5,799.0 L901.2,804.0 L905.0,809.0 L907.5,819.0 L911.2,831.5 L913.8,841.5 L907.5,842.8 L896.2,841.0 L886.2,836.5 L873.8,831.5 L867.5,816.5 L863.8,805.2 L856.2,792.8 L848.8,779.0 L841.2,762.8 L832.5,750.2 L823.8,742.8 L822.5,743.8 L812.5,743.0 L802.5,742.5 L796.2,747.5 L792.5,758.8 L786.2,763.8 L776.2,757.5 L767.5,751.2 L758.8,745.0 L756.2,736.2 L752.5,726.2 L746.2,717.5 L737.5,707.5 L730.0,701.2 L722.5,693.8 L716.2,686.2 L682.5,688.2 L682.5,700.8 L620.0,700.8 L543.8,671.2 L542.5,665.5 L493.8,668.8 L491.2,662.5 L488.8,653.8 L482.5,646.2 L475.0,638.8 L467.5,637.5 L458.8,630.0 L447.5,623.8 L437.5,620.0 L423.8,617.5 L420.0,612.5 L421.2,612.5 L418.8,602.5 L415.0,593.8 L407.5,587.5 L401.2,580.0 L397.5,572.5 L393.8,563.8 L395.0,557.5 L392.5,550.0 L386.2,542.5 L385.0,535.0 L382.5,527.5 L380.0,523.8 L371.2,522.5 L366.2,512.5 L360.0,502.5 L355.0,492.5 L353.8,482.5 L350.0,473.8 L342.5,466.2 L340.5,458.8 L343.8,451.2 L345.0,442.5 L346.2,430.0 L343.0,419.2 L340.5,405.0 L338.0,398.0 L341.2,387.5 L343.8,375.0 L345.5,360.0 L347.0,345.0 L349.5,330.0 L350.5,317.5 L352.0,307.5 L348.0,305.0 L348.8,295.0 L351.2,288.8 L346.2,287.5 L343.8,278.8 L338.8,270.0 L333.8,260.0 L334.5,252.0 L345.0,255.0 L357.5,257.5 L370.0,258.0 L375.5,243.8Z"/>
<path class="b" d="M496.3,235.5 L496.3,313.5 M351.2,307.5 L362.5,308.0 L371.2,313.8 L373.8,321.2 L380.0,325.0 L395.0,323.2 L410.0,322.5 L427.5,320.0 L440.0,316.2 L460.0,314.5 L480.0,314.0 L496.2,313.5 M496.2,312.5 L506.2,321.2 L505.0,330.0 L500.0,342.5 L493.8,351.2 L492.0,357.5 L498.8,361.2 L496.2,370.0 L495.5,419.2 M343.0,419.2 L621.8,419.2 M433.8,419.2 L433.8,498.5 L545.0,605.0 M558.8,419.2 L558.8,572.5 L555.0,576.2 L545.0,575.0 L543.8,582.5 L546.2,590.0 L545.0,600.0 L546.2,606.2 M550.0,607.5 L556.2,623.8 L550.0,627.5 L547.5,637.5 L545.0,647.5 L548.8,656.2 L547.5,662.5 L542.5,665.5 M558.5,551.2 L968.5,551.2 M621.8,340.8 L621.8,445.8 L811.2,445.8 M663.4,445.8 L663.4,700.8 M621.8,340.8 L769.2,340.8 M769.2,235.5 L769.2,445.8 M515.8,235.5 L515.8,265.0 L521.2,275.0 L530.0,282.5 L540.0,291.2 L551.2,297.5 L551.2,310.0 L548.0,318.8 L548.8,325.0 L555.0,326.2 L561.2,322.5 L566.2,330.0 L570.0,340.0 L576.2,347.5 L581.2,355.0 L590.0,353.8 L600.0,352.5 L610.0,352.0 L615.0,347.5 L621.8,355.0 M769.2,316.0 L926.3,316.0 M769.2,394.2 L885.0,394.2 L895.0,398.8 L910.0,397.5 L920.0,401.2 L927.5,405.0 M912.5,235.5 L916.2,250.0 L920.0,267.5 L922.5,285.0 L925.0,300.0 L926.2,315.5 L927.5,320.0 L921.2,323.8 L925.0,328.8 L930.0,331.2 L930.0,381.2 L926.2,385.0 L930.0,391.2 L927.5,400.0 L927.5,405.0 L932.5,417.5 L937.5,430.0 L942.5,448.0 M930.0,410.0 L935.0,422.5 L940.0,437.5 L942.5,452.5 L946.2,460.0 L952.5,471.2 L960.0,477.5 L960.0,485.0 L965.0,490.0 L968.0,496.2 L968.2,551.2 L968.8,565.0 L971.2,633.0 M811.2,445.8 L811.2,551.2 M811.2,472.0 L952.5,472.0 M790.8,551.2 L790.8,565.0 L853.8,565.0 L853.8,616.0 M789.5,565.0 L789.5,683.5 L716.2,683.5 M853.8,616.2 L860.0,620.0 L870.0,623.8 L877.5,626.2 L885.0,628.8 L895.0,632.5 L905.0,633.8 L915.0,637.5 L925.0,638.8 L935.0,636.2 L945.0,633.8 L955.0,632.5 L962.5,636.2 L971.2,640.0 L980.0,642.5 L980.0,680.0 L983.8,690.0 L987.5,700.0 L990.0,710.0 L986.2,720.0 L985.0,732.5 L985.0,742.5 M971.2,580.0 L971.2,640.0 M980.0,656.2 L1040.5,656.2 M930.0,381.0 L1040.0,379.5 M943.8,456.2 L1030.0,456.2 M968.8,565.0 L1061.2,565.0 L1065.0,570.0 L1062.5,575.0 L1057.5,577.5 L1068.8,578.0 M1017.5,296.2 L1016.2,306.2 L1010.0,313.8 L1005.0,321.2 L1006.2,330.0 L1007.5,338.8 L1010.0,347.5 L1020.0,353.8 L1030.0,360.0 L1037.5,367.5 L1040.0,378.8 L1041.2,387.5 L1045.0,395.0 L1050.0,403.8 L1057.5,407.5 L1061.2,417.5 L1060.0,427.5 L1052.5,432.5 L1045.0,435.0 L1042.5,443.0 M1042.5,442.5 L1037.5,452.5 L1032.5,457.5 L1033.8,468.8 L1038.8,480.0 L1046.2,488.8 L1052.5,498.8 L1061.2,503.8 L1058.8,513.8 L1057.5,520.0 L1065.0,526.2 L1072.5,533.8 L1077.5,545.0 L1082.5,552.5 L1077.5,560.0 L1073.8,565.0 L1070.0,572.5 L1068.8,578.0 L1065.0,590.0 L1060.0,600.0 L1057.5,603.8 L1051.2,612.5 L1047.5,622.5 L1042.5,633.0 M1071.2,580.0 L1065.0,587.5 L1061.2,595.0 L1060.0,603.8 L1052.5,615.0 L1046.2,625.0 L1041.2,635.0 L1040.0,645.0 L1041.2,656.2 L1040.0,667.5 L1043.8,673.8 L1040.0,680.0 L1036.2,690.0 L1032.5,700.0 L1030.0,708.8 L1071.2,709.5 L1070.0,717.5 L1073.8,725.0 L1072.5,732.5 M1057.5,407.0 L1113.8,407.0 M1048.0,298.0 L1060.0,303.8 L1077.5,308.8 L1095.0,313.8 L1105.0,318.8 L1110.0,327.5 L1113.8,333.8 L1116.2,337.5 M1082.5,552.5 L1086.2,546.2 L1095.0,545.0 L1102.5,541.2 L1105.0,533.8 L1106.2,530.0 L1113.8,527.5 L1120.0,525.5 L1127.5,528.8 L1135.0,525.0 L1141.2,520.0 L1148.8,521.2 L1155.0,517.5 L1160.0,510.0 L1167.5,506.2 L1175.0,496.2 L1182.5,501.2 L1190.0,505.0 L1200.0,507.5 L1208.8,506.2 L1216.2,510.0 L1222.5,513.8 L1227.5,506.2 L1235.0,502.5 L1242.5,492.5 L1250.0,485.0 L1257.5,477.5 L1261.2,467.5 L1262.0,460.0 L1266.8,455.0 M1117.5,425.0 L1117.5,492.5 L1113.8,496.2 L1116.2,505.0 L1112.5,512.5 L1107.5,520.0 L1106.2,530.0 M1175.0,426.2 L1175.0,496.2 M1118.8,425.5 L1205.0,426.2 M1073.8,565.0 L1105.0,563.0 L1106.2,560.5 L1360.0,562.5 M1222.5,513.8 L1225.0,522.5 L1231.2,530.0 L1235.0,537.5 L1240.0,545.0 L1230.0,550.0 L1220.0,555.0 L1210.0,560.0 L1200.0,561.5 M1060.0,603.8 L1103.8,604.2 L1160.0,605.0 L1212.0,605.0 L1225.0,601.2 L1240.0,598.8 M1200.0,608.0 L1206.2,610.0 L1215.0,605.0 L1225.0,601.2 L1240.0,600.0 L1253.8,601.2 L1258.8,608.8 L1282.5,609.5 L1307.5,633.0 M1206.2,610.0 L1215.0,622.5 L1225.0,635.0 L1233.8,646.2 L1241.2,656.2 L1247.5,666.2 L1253.8,680.0 M1183.8,603.0 L1190.0,595.0 L1200.0,590.0 L1212.5,582.5 L1225.0,575.0 L1237.5,568.8 L1242.0,562.5 M1103.8,604.2 L1097.5,687.5 L1098.0,725.0 M1159.2,605.0 L1167.5,657.5 L1172.5,677.5 L1167.5,692.5 L1168.8,708.8 L1171.2,716.2 L1230.0,722.5 L1231.2,727.5 L1235.0,725.0 L1233.8,716.2 L1242.5,716.2 M1116.2,725.0 L1118.8,718.8 L1115.0,709.5 L1169.5,709.5 M1265.2,421.8 L1265.2,480.1 L1366.1,480.1 M1365.8,479.9 L1365.8,513.2 L1379.9,513.2 M1364.4,523.9 L1377.2,517.2 M1280.3,416.1 L1280.3,419.6 L1374.2,419.6 L1380.2,426.2 L1381.2,432.3 L1385.2,437.3 L1381.2,442.4 L1378.2,447.4 L1379.2,453.5 L1383.2,459.5 L1386.3,466.6 L1384.2,470.6 L1379.2,474.6 L1373.1,477.7 L1369.1,479.7 M1385.2,437.3 L1405.4,446.8 M1287.4,480.1 L1287.4,491.8 L1292.9,488.8 L1299.5,484.3 L1305.6,481.1 L1310.6,481.1 L1315.7,486.7 L1321.7,495.2 M1316.0,488.3 L1320.0,491.6 L1325.4,491.0 L1330.8,496.3 L1337.5,499.0 L1340.2,503.1 L1334.8,508.5 L1332.1,513.2 L1333.5,516.5 L1337.5,513.8 L1342.9,516.5 L1348.3,520.6 L1353.6,524.6 M1321.7,495.2 L1311.6,497.8 L1306.6,500.9 L1302.5,504.9 L1297.5,508.9 L1292.5,509.9 L1288.4,515.0 L1283.4,516.0 L1279.3,521.0 L1275.3,529.1 L1270.3,535.2 L1266.2,539.2 L1260.2,541.2 L1252.1,544.2 L1244.0,545.2 L1239.0,543.6 L1231.9,539.2 M1413.8,340.0 L1415.0,355.0 L1413.8,367.5 L1416.2,380.0 L1415.0,392.5 L1413.8,403.8 L1412.5,418.8 L1411.2,440.0 L1406.2,447.0 M1453.8,340.0 L1452.5,347.5 L1448.8,355.0 L1443.8,362.5 L1440.0,372.5 L1437.5,382.5 L1435.0,392.5 L1433.8,401.2 M1463.8,330.0 L1465.0,340.0 L1466.2,360.0 L1468.0,380.0 L1470.0,390.0 L1471.2,395.5 M1413.8,403.2 L1433.8,401.8 L1455.0,401.2 L1462.5,398.8 L1467.5,393.8 L1471.2,395.5 M1412.5,418.8 L1450.0,419.5 L1460.0,420.0 L1461.2,426.2 L1462.5,431.2 M1450.0,419.5 L1450.0,437.5"/>
<path class="b" style="stroke-width:4.5" d="M375.5,243.8 L370.0,245.0 L367.5,247.5 L373.8,250.0 L380.0,246.2 L381.2,255.0 L385.0,261.2 L385.5,270.0 L380.0,273.8 L383.8,278.8 L380.0,285.0 L372.5,287.0 L368.8,281.2 L368.8,276.2 L373.8,271.2 L376.2,265.0 L373.8,260.0 L370.0,258.0"/>
<path class="b" style="stroke-width:4" d="M1468.0,437.0 L1472.5,438.0 L1471.0,439.0 L1468.0,437.0"/>
<path class="b" style="stroke-width:4" d="M1482.5,438.0 L1488.0,439.0 L1485.5,440.0 L1482.5,438.0"/>
<path class="b" style="stroke-width:3.4" d="M1057.5,727.8 L1065.0,725.2 L1073.8,729.0 L1075.0,735.2 L1067.5,737.8 L1058.8,734.0 L1057.5,727.8"/>
<path class="b" style="stroke-width:3.4" d="M1073.8,735.2 L1082.5,731.5"/>
<path class="b" style="stroke-width:4.5" d="M960.0,744.0 L962.5,740.2 L965.5,744.0 L963.8,749.0 L961.2,751.5"/>
<path class="b" style="stroke-width:4" d="M1103.8,729.0 L1106.2,715.2 L1109.5,722.8 L1111.2,729.0"/>
<path class="b" style="stroke-width:5" d="M1218.0,789.5 L1222.5,791.5 L1224.5,795.2 L1221.2,797.8 L1217.5,794.0 L1218.0,789.5"/>
<path class="b" style="stroke-width:4" d="M920.0,779.0 L926.2,771.5 L932.5,769.0 L930.0,774.0 L923.8,777.8"/>
<path class="b" style="stroke-width:6" d="M381.2,521.2 L387.5,522.5 L385.5,530.0 L390.0,537.5 L392.5,540.0"/>
<path class="b" style="stroke-width:4" d="M1360.4,484.9 L1353.6,488.3 L1348.3,492.3 L1347.6,500.4 L1346.9,508.5 L1346.2,513.8 L1351.0,516.5 L1353.6,521.9 L1354.3,530.0 L1352.3,535.4 L1353.6,542.1 L1356.3,547.5 L1359.0,552.9"/>
<path class="b" style="stroke-width:4" d="M1360.4,484.9 L1359.0,492.3 L1358.4,500.4 L1359.0,508.5 L1360.4,515.2 L1363.1,519.2 L1364.4,524.6 L1363.1,531.3 L1360.4,538.1 L1359.0,544.8 L1359.7,550.2"/>
<path class="b" style="stroke-width:5" d="M1340.2,524.6 L1345.6,528.6 L1351.0,532.7 L1353.6,535.4"/>
<path class="b" style="stroke-width:5" d="M1338.8,535.4 L1344.2,539.4 L1349.6,543.4 L1353.6,546.1"/>
<path class="b" style="stroke-width:5" d="M1340.2,544.8 L1345.6,547.5 L1351.0,551.5 L1356.3,552.9"/>
<path class="b" style="stroke-width:4" d="M1343.6,567.7 L1344.2,574.4 L1348.3,575.7 L1353.6,571.7 L1356.3,569.0"/>
<path class="b" style="stroke-width:4" d="M1346.9,581.1 L1352.3,575.7"/>
</g>
<text class="lt" x="1594" y="349.5">Adult relative</text>
<text class="lt" x="1594" y="377.5">pop. size</text>
<text class="lt" x="1594" y="405.5">(peak)</text>
<rect x="1594.3" y="419.3" width="24.7" height="25.6" fill="#4d4d4d"/><text class="le" x="1630.5" y="440.2">excl.-severe</text>
<rect x="1594.3" y="444.8" width="24.7" height="25.6" fill="#e5e5e5"/><text class="le" x="1630.5" y="465.7">other stages</text>
<rect x="1594.3" y="470.3" width="24.7" height="25.6" fill="#0030d8"/><text class="le" x="1630.5" y="491.2">0 gens.</text>
<rect x="1594.3" y="495.8" width="24.7" height="25.6" fill="#a82614"/><text class="le" x="1630.5" y="516.7">1 gens.</text>
<rect x="1594.3" y="521.3" width="24.7" height="25.6" fill="#dcc200"/><text class="le" x="1630.5" y="542.2">2 gens.</text>
<rect x="1594.3" y="546.8" width="24.7" height="25.6" fill="#27862a"/><text class="le" x="1630.5" y="567.7">3 gens.</text>
<rect x="1594.3" y="572.3" width="24.7" height="25.6" fill="#aa00aa"/><text class="le" x="1630.5" y="593.2">4 gens.</text>
<rect x="1594.3" y="597.8" width="24.7" height="25.6" fill="#dc7612"/><text class="le" x="1630.5" y="618.7">5 gens.</text>
<rect x="1594.3" y="623.3" width="24.7" height="25.6" fill="#00a8a8"/><text class="le" x="1630.5" y="644.2">6 gens.</text>
<rect x="1594.3" y="648.8" width="24.7" height="25.6" fill="#5ea80e"/><text class="le" x="1630.5" y="669.7">7 gens.</text>
<rect x="1594.3" y="674.3" width="24.7" height="25.6" fill="#8a3fd9"/><text class="le" x="1630.5" y="695.2">8 gens.</text>
<rect x="1594.3" y="699.8" width="24.7" height="25.6" fill="#a08a22"/><text class="le" x="1630.5" y="720.7">9 gens.</text>
<rect x="1594.3" y="725.3" width="24.7" height="25.6" fill="#74aff0"/><text class="le" x="1630.5" y="746.2">10 gens.</text>
<rect x="1594.3" y="750.8" width="24.7" height="25.6" fill="#f191b0"/><text class="le" x="1630.5" y="771.7">11 gens.</text>
</svg></body></html>
